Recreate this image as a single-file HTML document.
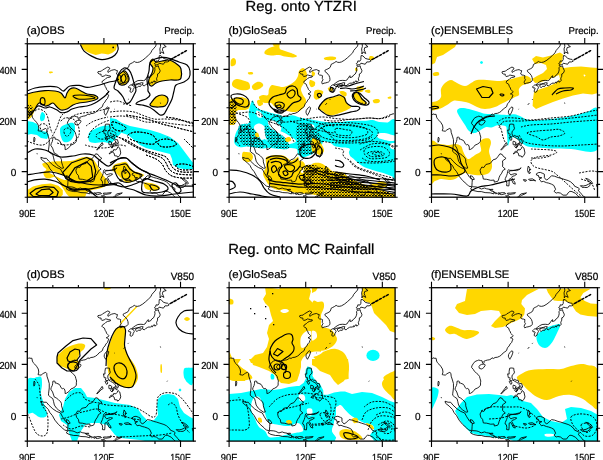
<!DOCTYPE html><html><head><meta charset="utf-8"><style>html,body{margin:0;padding:0;background:#fff;overflow:hidden}text{-webkit-font-smoothing:antialiased}svg{display:block;will-change:transform}</style></head><body>
<svg width="603" height="460" viewBox="0 0 603 460" font-family="Liberation Sans, sans-serif">
<style>text{stroke:#000;stroke-width:0.22px;fill:#000;text-rendering:geometricPrecision}</style>
<defs>
<clipPath id="c00"><rect x="27.3" y="43.8" width="166.0" height="153.4"/></clipPath>
<clipPath id="c01"><rect x="229.1" y="43.8" width="166.0" height="153.4"/></clipPath>
<clipPath id="c02"><rect x="431.5" y="43.8" width="166.0" height="153.4"/></clipPath>
<clipPath id="c10"><rect x="27.3" y="287.7" width="166.0" height="153.4"/></clipPath>
<clipPath id="c11"><rect x="229.1" y="287.7" width="166.0" height="153.4"/></clipPath>
<clipPath id="c12"><rect x="431.5" y="287.7" width="166.0" height="153.4"/></clipPath>
<g id="coast"><path d="M-5.11,72.10 L-2.55,72.35 L0.00,71.59 L1.53,70.05 L2.55,70.56 L4.60,70.56 L5.11,73.38 L5.87,74.91 L7.41,76.44 L9.19,78.49 L10.98,81.30 L11.49,84.37 L10.73,86.93 L12.00,87.18 L13.79,87.44 L15.32,86.16 L16.60,85.39 L18.39,84.63 L19.41,85.65 L19.66,88.46 L20.94,92.30 L21.96,95.88 L21.96,100.22 L21.71,102.27 L21.20,106.10 L21.20,107.64 L22.98,109.17 L25.54,110.96 L26.30,114.03 L27.07,117.35 L29.11,120.42 L31.16,122.21 L34.48,124.51 L36.26,124.25 L35.24,121.44 L34.22,118.12 L34.22,116.07 L33.46,114.28 L31.16,111.98 L28.86,110.19 L27.07,109.43 L26.30,107.38 L25.28,104.31 L23.50,101.50 L24.01,99.71 L25.03,97.66 L25.41,95.62 L25.54,93.57 L26.82,93.32 L27.84,93.83 L27.84,95.36 L28.86,95.36 L31.92,96.64 L32.94,98.18 L33.71,99.97 L34.99,100.99 L36.26,100.73 L37.03,101.24 L37.80,103.29 L37.80,105.85 L39.07,105.59 L41.37,104.06 L42.65,102.52 L43.67,101.24 L45.71,100.48 L48.01,98.94 L49.03,97.41 L49.03,95.11 L49.29,93.32 L48.52,90.76 L48.01,88.72 L46.48,86.67 L44.95,85.39 L42.90,83.60 L41.88,81.81 L40.10,79.77 L40.35,78.23 L41.63,76.19 L42.65,74.65 L44.44,73.38 L45.97,72.86 L47.25,72.35 L49.03,72.86 L50.57,73.12 L51.08,75.42 L51.84,75.93 L52.61,74.65 L52.35,73.63 L54.14,72.86 L55.93,72.35 L57.72,72.10 L59.50,71.33 L60.53,70.05 L61.80,70.82 L63.59,69.80 L65.89,69.54 L68.19,68.52 L69.98,67.24 L71.76,65.19 L73.30,64.17 L75.08,62.89 L75.59,61.10 L76.36,59.57 L77.64,58.29 L78.66,56.25 L80.19,54.71 L80.70,53.18 L81.47,51.39 L79.94,50.37 L78.91,50.11 L81.21,48.83 L81.47,47.81 L80.19,46.53 L79.17,45.51 L78.91,44.23 L77.89,42.70 L77.13,40.40 L75.34,39.37 L74.57,38.61 L75.34,37.07 L77.13,36.05 L78.40,34.77 L80.19,33.75 L83.00,33.24 L83.26,32.21 L81.47,31.96 L79.42,31.45 L78.40,31.19 L76.87,32.21 L74.57,32.73 L73.81,31.70 L73.81,30.42 L71.76,30.17 L70.49,29.15 L70.74,27.87 L72.53,27.61 L74.06,27.36 L75.34,26.08 L76.87,25.31 L78.91,24.03 L80.45,23.27 L82.23,24.03 L82.49,25.06 L80.70,26.59 L80.45,28.12 L80.70,28.63 L82.23,27.61 L84.02,26.59 L85.81,26.08 L87.60,25.82 L88.87,26.59 L90.15,26.84 L89.64,28.89 L89.13,30.17 L90.41,31.19 L92.19,31.45 L93.47,31.96 L93.22,33.24 L93.22,34.77 L93.98,36.05 L92.96,37.33 L92.70,38.86 L93.22,40.14 L95.00,39.37 L96.54,39.12 L98.32,38.61 L99.60,38.09 L100.62,37.07 L100.88,35.54 L100.62,33.75 L99.86,31.70 L98.58,30.17 L97.81,29.15 L96.02,27.87 L95.77,26.59 L97.05,25.82 L98.83,25.06 L100.88,23.78 L101.64,22.24 L101.90,20.71 L103.69,19.69 L105.22,18.92 L107.01,17.64 L108.28,18.41 L110.07,18.66 L112.37,18.15 L115.43,16.36 L118.24,14.06 L121.05,11.50 L123.61,8.95 L124.63,6.65 L126.67,4.35 L128.46,2.30 L129.22,-1.28 L130.25,-5.11 M51.84,76.44 L53.38,76.70 L53.63,77.72 L52.35,79.77 L51.08,80.79 L49.80,81.30 L47.76,80.53 L47.50,78.75 L48.78,77.21 L50.06,76.70Z M80.45,63.15 L81.47,63.92 L81.21,65.45 L80.19,68.26 L78.91,70.56 L78.40,71.59 L77.38,70.05 L76.87,68.52 L77.13,66.73 L78.15,65.19 L79.42,63.66Z M104.45,41.16 L105.98,41.93 L106.50,42.70 L107.01,43.97 L105.98,45.51 L105.47,47.55 L103.94,48.58 L102.66,47.81 L102.92,46.28 L103.69,44.49 L102.66,43.97 L101.64,44.23 L101.13,42.95 L102.15,41.93 L103.18,41.16Z M108.54,42.70 L109.56,43.97 L111.09,42.44 L113.14,42.70 L114.16,41.16 L113.39,40.40 L111.35,40.14 L109.82,40.65 L108.28,41.16Z M104.45,40.91 L105.98,39.63 L108.03,38.09 L110.58,36.82 L113.65,36.56 L116.20,36.82 L117.73,36.30 L119.26,34.00 L120.03,32.73 L121.05,31.96 L120.80,33.75 L123.10,33.24 L124.63,31.19 L126.16,30.17 L127.18,28.12 L127.69,26.08 L127.44,24.03 L128.46,22.50 L129.99,22.50 L131.01,21.99 L131.52,24.03 L132.80,26.59 L132.54,28.12 L131.52,29.66 L130.25,30.17 L130.25,32.47 L129.74,33.49 L129.22,35.03 L129.74,36.56 L128.71,37.84 L127.44,38.35 L127.18,37.07 L125.90,37.58 L125.39,38.86 L124.63,39.37 L124.63,38.09 L123.10,39.37 L120.54,39.37 L119.78,40.14 L118.24,40.91 L116.97,42.19 L115.43,41.42 L115.18,40.14 L115.94,39.12 L114.16,38.86 L112.11,39.63 L109.82,40.14 L108.03,40.40 L106.75,40.91 L105.22,41.16Z M127.69,21.73 L129.22,20.96 L130.76,20.96 L131.78,19.43 L134.08,19.94 L136.12,20.45 L137.65,18.15 L139.95,18.15 L141.74,17.39 L141.23,16.36 L140.46,15.60 L138.67,15.34 L136.12,14.57 L133.82,12.02 L132.03,11.76 L131.78,13.81 L131.78,15.60 L130.76,17.39 L128.71,17.13 L128.46,18.92 L127.18,19.69 L127.95,20.71Z M132.80,10.23 L134.08,8.18 L136.63,9.72 L135.86,7.67 L135.10,6.14 L135.61,3.83 L138.93,2.81 L136.89,1.53 L135.86,-1.28 L135.35,-3.83 L133.31,-3.83 L133.06,0.00 L133.31,2.56 L132.54,5.11 L132.80,7.67Z M78.15,80.53 L79.68,80.28 L82.23,80.53 L82.49,83.09 L83.00,84.37 L82.23,86.16 L80.70,87.44 L80.45,89.48 L80.96,91.53 L82.23,92.30 L83.26,91.53 L84.53,92.55 L86.58,92.55 L87.34,94.60 L86.83,95.62 L85.04,94.60 L83.26,93.57 L81.21,92.30 L79.68,93.06 L78.40,92.30 L78.15,91.02 L78.91,90.51 L78.15,89.99 L76.87,89.99 L76.36,87.44 L76.10,86.16 L77.64,86.42 L77.64,83.60Z M78.15,93.32 L79.68,93.57 L80.45,95.11 L79.94,96.39 L79.17,96.64 L78.66,95.62 L77.64,93.57Z M74.83,98.69 L75.85,100.73 L73.55,102.27 L71.76,104.31 L69.72,106.36 L69.46,105.85 L71.25,103.55 L73.04,101.24 L74.83,98.69Z M81.72,97.41 L84.02,98.18 L84.53,99.20 L83.26,100.99 L81.72,100.99 L81.47,98.94Z M84.53,99.97 L85.55,101.76 L84.79,104.31 L83.26,103.03 L84.02,100.99Z M86.83,99.20 L86.83,101.24 L85.30,103.55 L85.81,100.99Z M87.85,95.88 L90.15,95.88 L91.17,99.45 L89.38,99.71 L89.90,101.76 L88.87,102.01 L87.85,100.22 L87.85,98.43 L89.13,98.69 L87.60,96.90Z M90.66,102.78 L92.45,104.31 L93.47,109.17 L92.45,111.73 L90.41,113.52 L89.90,112.24 L87.34,111.98 L86.83,109.43 L85.30,108.40 L83.77,108.91 L81.98,110.19 L82.23,109.17 L83.77,107.64 L86.06,107.38 L86.32,105.85 L88.62,106.10 L89.64,105.08Z M68.44,109.94 L70.74,110.70 L71.76,112.49 L74.57,114.54 L72.53,116.07 L71.00,117.10 L71.25,120.16 L71.00,122.72 L73.81,125.28 L71.25,126.81 L70.23,129.37 L68.70,131.41 L67.68,133.46 L66.91,136.27 L66.14,137.55 L62.82,138.32 L62.57,136.27 L59.25,136.53 L55.16,135.50 L51.84,135.25 L51.08,131.67 L49.29,129.62 L48.52,126.30 L50.31,123.23 L52.35,123.74 L54.40,120.67 L58.74,119.65 L61.55,116.07 L64.61,115.05 L66.66,112.49Z M13.54,113.52 L16.60,114.54 L19.15,114.54 L21.45,117.35 L25.54,121.19 L29.37,123.74 L33.20,125.28 L35.24,129.11 L38.05,133.46 L40.86,135.50 L40.61,138.57 L40.35,142.92 L37.29,142.41 L35.24,140.36 L31.16,136.78 L27.58,132.44 L25.03,127.83 L22.47,124.77 L20.94,121.70 L17.62,118.37 L14.05,115.56Z M38.82,131.92 L40.86,132.44 L42.90,135.50 L40.86,136.01 L39.33,134.48Z M40.86,142.92 L44.69,143.17 L46.74,143.68 L49.80,145.22 L53.12,144.20 L54.91,144.96 L57.97,145.47 L60.02,147.26 L62.57,147.78 L62.31,150.08 L58.74,149.05 L53.63,148.80 L49.80,147.78 L46.48,147.78 L41.88,146.75 L39.07,145.22 L40.35,143.17Z M57.97,145.73 L61.29,145.47 L61.29,146.24 L58.23,146.24Z M62.57,148.54 L65.38,149.31 L64.36,150.33Z M66.40,149.05 L68.19,149.05 L67.68,150.59 L66.40,150.33Z M68.44,149.31 L70.74,148.80 L73.55,149.05 L74.32,149.82 L70.23,150.84 L68.70,150.59Z M76.10,149.31 L79.17,149.31 L84.02,148.80 L83.26,149.82 L78.40,150.59 L76.10,150.33Z M74.06,152.12 L77.13,151.87 L78.66,153.91 L75.34,153.14Z M85.55,153.91 L87.60,151.87 L89.64,150.08 L95.00,149.05 L93.47,150.08 L89.90,151.61 L87.09,153.66Z M89.64,124.00 L88.36,125.53 L85.04,126.81 L80.45,126.55 L78.15,126.55 L77.13,125.79 L76.62,126.30 L76.10,127.83 L75.85,129.62 L75.08,131.92 L73.81,134.74 L73.55,136.27 L74.83,137.04 L75.34,139.59 L75.08,141.90 L77.38,142.15 L77.64,139.08 L77.64,135.50 L79.17,134.74 L80.70,137.29 L81.72,139.59 L83.77,140.36 L83.26,138.32 L81.72,136.53 L80.19,133.71 L80.70,132.69 L83.00,131.92 L85.30,130.39 L83.26,129.88 L81.21,130.39 L79.42,131.16 L78.40,130.13 L77.13,128.09 L78.66,127.07 L81.21,126.81 L84.28,126.04 L87.85,125.28 L89.13,124.25Z M96.79,122.21 L98.32,124.51 L97.81,126.30 L99.34,125.53 L97.05,127.83 L99.09,128.86 L97.56,129.88 L96.54,128.34 L96.02,125.79Z M97.05,135.50 L100.88,134.99 L104.20,137.04 L101.64,136.53 L98.32,136.78Z M91.94,135.76 L95.00,136.27 L94.24,137.55 L92.45,137.04Z M104.71,130.13 L106.75,128.86 L108.79,128.60 L111.35,129.62 L112.88,130.39 L112.88,133.97 L114.92,136.27 L116.71,135.25 L120.03,131.92 L123.10,132.44 L126.42,133.71 L129.48,134.48 L132.54,135.50 L136.63,136.78 L139.18,138.06 L142.50,141.13 L143.02,142.41 L146.59,143.94 L147.87,144.96 L146.85,147.01 L148.63,148.54 L150.42,150.84 L151.70,152.38 L154.51,153.91 L153.23,154.93 L148.12,153.66 L146.08,151.87 L144.04,149.56 L140.46,147.78 L138.42,147.52 L136.63,149.05 L135.10,151.35 L131.52,151.35 L128.97,149.31 L126.42,148.80 L124.63,149.31 L122.58,147.52 L124.12,145.47 L122.33,141.64 L120.03,140.36 L117.22,139.34 L114.92,138.83 L111.86,137.55 L109.82,138.06 L108.79,136.53 L107.52,135.25 L110.33,133.97 L107.26,133.46 L107.01,131.67 L105.22,131.41Z M148.89,141.90 L151.95,142.15 L154.51,141.64 L157.06,140.36 L158.85,138.83 L158.34,141.90 L155.78,143.68 L153.23,143.68 L150.42,143.43Z M154.25,134.48 L157.06,135.50 L159.62,137.29 L161.15,139.59 L160.38,140.11 L157.83,137.80 L154.76,135.25Z M164.98,140.62 L167.28,142.92 L168.30,145.22 L166.51,144.71 L165.23,142.15Z M6.90,93.32 L7.66,94.60 L7.41,97.15 L6.64,98.43 L6.38,95.88Z M9.70,109.43 L9.96,110.45 M96.28,61.10 L97.81,59.31 M100.62,55.99 L101.39,55.22 M87.09,65.45 L87.60,65.19 M133.06,58.80 L133.31,59.83 M139.70,93.83 L140.21,93.06" fill="none" stroke="#000" stroke-width="0.85" stroke-linejoin="round"/><path d="M142.76,15.85 L145.31,14.57 M146.59,13.81 L148.89,12.53 M150.42,11.76 L152.21,10.74 M154.00,9.72 L155.78,8.69 M157.32,7.93 L159.10,6.90" fill="none" stroke="#000" stroke-width="1.5" stroke-linecap="round"/></g>
<pattern id="stip" width="3" height="3" patternUnits="userSpaceOnUse"><rect width="3" height="3" fill="#00FFFF"/><rect x="0" y="0" width="1.6" height="1" fill="#000"/><rect x="1.5" y="1.6" width="1" height="1.2" fill="#000"/></pattern>
<pattern id="stipY" width="3" height="3" patternUnits="userSpaceOnUse"><rect width="3" height="3" fill="#FFD700"/><rect x="0" y="0" width="1.8" height="1.1" fill="#000"/><rect x="1.6" y="1.7" width="1.2" height="1.1" fill="#000"/></pattern>
</defs>
<rect width="603" height="460" fill="#fff"/>
<text x="245.6" y="10.7" font-size="14.6" textLength="111.2" lengthAdjust="spacingAndGlyphs">Reg. onto YTZRI</text>
<text x="228.2" y="254.4" font-size="14.6" textLength="146.2" lengthAdjust="spacingAndGlyphs">Reg. onto MC Rainfall</text>
<g clip-path="url(#c00)">
<path d="M80,43.5 L118,43.5 L116.8,46 L116,50 L112,53 L108.2,54.4 L104,53.8 L101.5,53.6 L98,54.5 L95.7,54.9 L91,53.5 L87.4,52 L84.5,50 L82.5,47.8Z" fill="#FFD700"/>
<path d="M49.0,71.8 C49.3,71.5 51.3,71.5 52.0,71.6 C52.7,71.7 53.3,72.3 53.0,72.6 C52.7,72.9 50.7,73.5 50.0,73.4 C49.3,73.3 48.7,72.1 49.0,71.8Z" fill="#FFD700"/>
<path d="M27,94 L35,92 L45,90.6 L55,91 L61,93 L65,98 L67,93 L70,89 L75,88 L81,91 L87,94 L95,95.4 L98,98 L95,100 L87,102 L79,103 L73,105 L67,109 L61,110 L57,107 L53,103 L49,105 L45,106 L39,103 L35,109 L31,113 L27,111Z" fill="#FFD700"/>
<path d="M27.0,104.0 C27.5,101.3 29.0,102.0 30.0,102.0 C31.0,102.0 32.2,103.0 33.0,104.0 C33.8,105.0 34.8,106.7 35.0,108.0 C35.2,109.3 34.4,110.8 34.0,112.0 C33.6,113.2 33.1,114.2 32.6,115.1 C32.1,116.0 32.0,116.9 31.1,117.4 C30.2,118.0 27.7,120.6 27.0,118.4 C26.3,116.2 26.5,106.7 27.0,104.0Z" fill="#FFD700"/>
<path d="M27.0,106.0 C27.5,103.9 29.1,104.8 30.0,105.0 C30.9,105.2 31.9,106.1 32.5,107.0 C33.1,107.9 33.5,109.3 33.5,110.5 C33.5,111.7 32.9,113.0 32.5,114.0 C32.1,115.0 31.9,115.9 31.0,116.5 C30.1,117.1 27.7,119.2 27.0,117.5 C26.3,115.8 26.5,108.1 27.0,106.0Z" fill="url(#stipY)"/>
<path d="M118.0,76.0 C118.7,74.3 120.8,72.8 122.0,72.0 C123.2,71.2 124.0,70.5 125.0,71.0 C126.0,71.5 127.3,73.5 128.0,75.0 C128.7,76.5 129.3,78.5 129.0,80.0 C128.7,81.5 127.3,83.2 126.0,84.0 C124.7,84.8 122.3,85.3 121.0,85.0 C119.7,84.7 118.5,83.5 118.0,82.0 C117.5,80.5 117.3,77.7 118.0,76.0Z" fill="#FFD700"/>
<path d="M150,60 L153,59 L156,62 L162,61 L168,60 L172,61 L178,65 L181,69 L181,78 L178,80 L170,80 L162,81 L156,83 L152,86 L149,84 L149,79 L152,73 L153,68 L151,63Z" fill="#FFD700"/>
<path d="M151.0,103.0 C152.0,101.7 154.2,98.3 156.0,97.0 C157.8,95.7 160.2,95.0 162.0,95.0 C163.8,95.0 166.0,96.0 167.0,97.0 C168.0,98.0 168.3,99.5 168.0,101.0 C167.7,102.5 166.5,105.0 165.0,106.0 C163.5,107.0 161.0,106.9 159.0,107.0 C157.0,107.1 154.5,106.9 153.0,106.6 C151.5,106.3 150.3,105.6 150.0,105.0 C149.7,104.4 150.0,104.3 151.0,103.0Z" fill="#FFD700"/>
<path d="M42.0,112.0 C42.8,111.7 44.7,113.7 45.0,115.0 C45.3,116.3 44.7,119.0 44.0,120.0 C43.3,121.0 41.7,121.5 41.0,121.0 C40.3,120.5 39.8,118.5 40.0,117.0 C40.2,115.5 41.2,112.3 42.0,112.0Z" fill="#00FFFF"/>
<path d="M27,121 L33,122 L37,124 L39,129 L42,131 L47,132 L49,135 L47,139 L41,138 L37,135 L31,134 L27,135Z" fill="#00FFFF"/>
<path d="M61.0,127.0 C62.2,125.8 65.0,124.7 67.0,124.0 C69.0,123.3 71.7,122.5 73.0,123.0 C74.3,123.5 74.8,125.0 75.0,127.0 C75.2,129.0 74.8,132.7 74.0,135.0 C73.2,137.3 71.7,139.8 70.0,141.0 C68.3,142.2 65.5,142.7 64.0,142.0 C62.5,141.3 61.7,138.8 61.0,137.0 C60.3,135.2 60.0,132.7 60.0,131.0 C60.0,129.3 59.8,128.2 61.0,127.0Z" fill="#00FFFF"/>
<path d="M89.0,133.0 C90.0,131.0 92.7,130.2 95.0,129.0 C97.3,127.8 100.3,126.7 103.0,126.0 C105.7,125.3 108.8,125.5 111.0,125.0 C113.2,124.5 114.7,123.5 116.0,123.0 C117.3,122.5 118.2,121.2 119.0,122.0 C119.8,122.8 120.7,126.2 121.0,128.0 C121.3,129.8 121.8,131.3 121.0,133.0 C120.2,134.7 117.7,136.3 116.0,138.0 C114.3,139.7 113.2,142.3 111.0,143.0 C108.8,143.7 105.7,142.0 103.0,142.0 C100.3,142.0 97.3,143.2 95.0,143.0 C92.7,142.8 90.0,142.7 89.0,141.0 C88.0,139.3 88.0,135.0 89.0,133.0Z" fill="#00FFFF"/>
<path d="M110,118 L116,119 L122,123 L130,126 L140,128 L150,130 L160,133 L170,137 L178,143 L184,151 L190,159 L194,164 L194,169 L186,169.4 L178,168 L173,165 L172,159 L170,154 L162,152 L154,150 L146,148 L140,145 L134,140 L128,135 L122,133 L116,131 L110,129Z" fill="#00FFFF"/>
<path d="M42.7,163.4 C43.7,162.7 47.0,162.3 49.4,161.9 C51.8,161.5 54.2,161.3 56.9,161.2 C59.6,161.1 63.1,161.3 65.8,161.2 C68.5,161.1 71.1,160.9 73.3,160.4 C75.5,159.9 77.0,158.8 79.2,158.2 C81.4,157.6 84.5,156.6 86.7,156.7 C89.0,156.8 91.0,157.6 92.7,159.0 C94.4,160.4 95.9,162.9 97.1,164.9 C98.3,166.9 98.8,168.9 100.1,170.9 C101.3,172.9 103.2,175.0 104.6,176.9 C106.0,178.8 108.0,180.6 108.3,182.1 C108.5,183.6 107.7,184.7 106.1,185.8 C104.5,186.9 101.1,188.1 98.6,188.8 C96.1,189.6 93.2,189.6 91.2,190.3 C89.2,191.1 88.0,192.1 86.7,193.3 C85.5,194.6 86.2,197.1 83.7,197.8 C81.2,198.6 74.5,198.3 71.8,197.8 C69.1,197.3 68.5,196.1 67.3,194.8 C66.0,193.6 65.3,191.8 64.3,190.3 C63.3,188.8 62.3,187.3 61.3,185.8 C60.3,184.3 59.3,182.8 58.3,181.3 C57.3,179.8 56.9,177.4 55.4,176.9 C53.9,176.4 51.1,178.4 49.4,178.4 C47.6,178.4 45.9,177.9 44.9,176.9 C43.9,175.9 43.1,173.7 43.4,172.4 C43.6,171.2 46.4,170.4 46.4,169.4 C46.4,168.4 44.0,167.4 43.4,166.4 C42.8,165.4 41.7,164.2 42.7,163.4Z" fill="#FFD700"/>
<path d="M50.9,170.9 C52.1,170.9 54.9,171.7 56.9,172.4 C58.9,173.2 61.1,174.4 62.8,175.4 C64.5,176.4 67.0,177.7 67.3,178.4 C67.5,179.2 65.8,180.0 64.3,179.9 C62.8,179.8 60.3,178.5 58.3,177.6 C56.3,176.7 53.9,175.5 52.4,174.6 C50.9,173.7 49.6,173.0 49.4,172.4 C49.1,171.8 49.6,170.9 50.9,170.9Z" fill="#fff"/>
<path d="M27,190.3 L33,186.6 L41.9,184.3 L50.9,183.6 L58.3,185.8 L62.8,190.3 L62.8,194.8 L59.8,198 L27,198Z" fill="#FFD700"/>
<path d="M114.0,165.0 C115.3,163.8 118.0,163.5 120.0,163.0 C122.0,162.5 124.3,161.3 126.0,162.0 C127.7,162.7 128.7,165.5 130.0,167.0 C131.3,168.5 132.3,170.0 134.0,171.0 C135.7,172.0 138.3,172.3 140.0,173.0 C141.7,173.7 144.0,174.2 144.0,175.0 C144.0,175.8 141.7,177.0 140.0,178.0 C138.3,179.0 136.0,180.2 134.0,181.0 C132.0,181.8 129.7,183.0 128.0,183.0 C126.3,183.0 125.3,182.0 124.0,181.0 C122.7,180.0 121.3,178.3 120.0,177.0 C118.7,175.7 117.3,174.2 116.0,173.0 C114.7,171.8 112.3,171.3 112.0,170.0 C111.7,168.7 112.7,166.2 114.0,165.0Z" fill="#FFD700"/>
<path d="M144.0,183.0 C144.8,182.2 147.8,182.7 150.0,183.0 C152.2,183.3 155.3,184.2 157.0,185.0 C158.7,185.8 160.2,187.1 160.0,188.0 C159.8,188.9 157.8,190.3 156.0,190.6 C154.2,190.9 150.8,190.4 149.0,190.0 C147.2,189.6 145.8,189.2 145.0,188.0 C144.2,186.8 143.2,183.8 144.0,183.0Z" fill="#FFD700"/>
<use href="#coast" transform="translate(27.3,43.8)"/>
<path d="M27.0,91.0 C28.3,90.5 32.0,88.7 35.0,88.0 C38.0,87.3 41.3,86.8 45.0,86.6 C48.7,86.4 54.0,86.3 57.0,87.0 C60.0,87.7 61.5,90.7 63.0,91.0 C64.5,91.3 64.8,89.8 66.0,89.0 C67.2,88.2 67.8,86.6 70.0,86.0 C72.2,85.4 76.2,85.2 79.0,85.4 C81.8,85.6 84.3,87.3 87.0,87.4 C89.7,87.5 92.3,86.6 95.0,86.0 C97.7,85.4 100.7,84.7 103.0,84.0 C105.3,83.3 107.0,82.5 109.0,82.0 C111.0,81.5 113.3,81.5 115.0,81.0 C116.7,80.5 118.3,79.3 119.0,79.0" fill="none" stroke="#000" stroke-width="1.2" stroke-linejoin="round"/>
<path d="M109.0,91.0 C108.5,91.7 107.3,93.7 106.0,95.0 C104.7,96.3 102.8,97.7 101.0,99.0 C99.2,100.3 97.3,101.8 95.0,103.0 C92.7,104.2 89.7,105.3 87.0,106.0 C84.3,106.7 81.5,106.5 79.0,107.0 C76.5,107.5 74.0,108.2 72.0,109.0 C70.0,109.8 68.8,111.4 67.0,112.0 C65.2,112.6 62.7,112.9 61.0,112.6 C59.3,112.3 58.8,110.9 57.0,110.0 C55.2,109.1 52.0,107.3 50.0,107.0 C48.0,106.7 47.0,108.2 45.0,108.0 C43.0,107.8 40.0,105.3 38.0,106.0 C36.0,106.7 34.5,110.3 33.0,112.0 C31.5,113.7 29.7,115.3 29.0,116.0" fill="none" stroke="#000" stroke-width="1.2" stroke-linejoin="round"/>
<path d="M27.0,94.0 C28.3,93.7 32.0,92.6 35.0,92.0 C38.0,91.4 41.7,90.8 45.0,90.6 C48.3,90.4 52.3,90.6 55.0,91.0 C57.7,91.4 59.3,91.8 61.0,93.0 C62.7,94.2 64.0,98.0 65.0,98.0 C66.0,98.0 66.2,94.5 67.0,93.0 C67.8,91.5 68.7,89.8 70.0,89.0 C71.3,88.2 73.2,87.7 75.0,88.0 C76.8,88.3 79.0,90.0 81.0,91.0 C83.0,92.0 84.7,93.3 87.0,94.0 C89.3,94.7 93.2,94.7 95.0,95.4 C96.8,96.1 98.0,97.2 98.0,98.0 C98.0,98.8 96.8,99.3 95.0,100.0 C93.2,100.7 89.7,101.5 87.0,102.0 C84.3,102.5 81.3,102.5 79.0,103.0 C76.7,103.5 75.0,104.0 73.0,105.0 C71.0,106.0 69.0,108.2 67.0,109.0 C65.0,109.8 62.7,110.3 61.0,110.0 C59.3,109.7 58.3,108.2 57.0,107.0 C55.7,105.8 54.3,103.3 53.0,103.0 C51.7,102.7 50.3,104.5 49.0,105.0 C47.7,105.5 46.7,106.3 45.0,106.0 C43.3,105.7 40.7,102.5 39.0,103.0 C37.3,103.5 36.3,107.3 35.0,109.0 C33.7,110.7 32.3,112.7 31.0,113.0 C29.7,113.3 27.7,111.3 27.0,111.0" fill="none" stroke="#000" stroke-width="1.2" stroke-linejoin="round"/>
<path d="M73.0,96.0 C73.3,95.3 77.2,95.0 80.0,95.0 C82.8,95.0 87.5,95.5 90.0,96.0 C92.5,96.5 95.3,97.5 95.0,98.0 C94.7,98.5 90.8,98.8 88.0,99.0 C85.2,99.2 80.5,99.5 78.0,99.0 C75.5,98.5 72.7,96.7 73.0,96.0Z" fill="none" stroke="#000" stroke-width="1.2" stroke-linejoin="round"/>
<path d="M40.5,103.5 C40.2,102.5 40.2,100.0 40.5,99.0 C40.8,98.0 41.8,97.6 42.5,97.6 C43.2,97.6 44.2,97.9 44.6,99.0 C45.0,100.1 45.1,103.0 44.8,104.0 C44.4,105.0 43.2,104.9 42.5,104.8 C41.8,104.7 40.8,104.5 40.5,103.5Z" fill="none" stroke="#000" stroke-width="1.2" stroke-linejoin="round"/>
<path d="M80.4,44.5 C81.0,45.6 82.2,49.2 84.1,51.1 C86.0,53.0 89.0,54.7 91.6,56.1 C94.2,57.5 97.1,59.0 99.9,59.4 C102.7,59.8 105.7,59.3 108.2,58.6 C110.7,57.9 113.2,56.8 114.8,55.3 C116.4,53.8 117.7,51.4 118.1,49.5 C118.5,47.6 117.4,44.9 117.3,44.0" fill="none" stroke="#000" stroke-width="1.2" stroke-linejoin="round"/>
<circle cx="113.2" cy="47.4" r="0.9" fill="#000"/>
<path d="M148.0,87.0 C147.8,85.0 146.8,81.7 147.0,79.0 C147.2,76.3 148.5,73.7 149.0,71.0 C149.5,68.3 149.0,65.0 150.0,63.0 C151.0,61.0 152.8,59.9 155.0,59.0 C157.2,58.1 160.5,57.5 163.0,57.4 C165.5,57.3 167.3,57.8 170.0,58.6 C172.7,59.4 176.2,60.9 179.0,62.0 C181.8,63.1 185.2,63.5 187.0,65.0 C188.8,66.5 189.7,68.8 190.0,71.0 C190.3,73.2 190.0,76.2 189.0,78.0 C188.0,79.8 186.2,80.8 184.0,82.0 C181.8,83.2 177.7,83.5 176.0,85.0 C174.3,86.5 174.7,88.7 174.0,91.0 C173.3,93.3 173.0,96.3 172.0,99.0 C171.0,101.7 169.3,104.5 168.0,107.0 C166.7,109.5 165.3,112.7 164.0,114.0 C162.7,115.3 161.5,115.5 160.0,115.0 C158.5,114.5 156.8,112.3 155.0,111.0 C153.2,109.7 151.2,108.0 149.0,107.0 C146.8,106.0 144.2,105.5 142.0,105.0 C139.8,104.5 136.3,104.7 136.0,104.0 C135.7,103.3 138.3,101.8 140.0,101.0 C141.7,100.2 144.3,100.0 146.0,99.0 C147.7,98.0 149.7,96.3 150.0,95.0 C150.3,93.7 148.3,92.3 148.0,91.0 C147.7,89.7 148.2,89.0 148.0,87.0Z" fill="none" stroke="#000" stroke-width="1.2" stroke-linejoin="round"/>
<path d="M150.0,63.0 C150.0,61.5 152.0,59.2 153.0,59.0 C154.0,58.8 154.5,61.7 156.0,62.0 C157.5,62.3 160.0,61.3 162.0,61.0 C164.0,60.7 166.3,60.0 168.0,60.0 C169.7,60.0 170.3,60.2 172.0,61.0 C173.7,61.8 176.5,63.7 178.0,65.0 C179.5,66.3 180.5,66.8 181.0,69.0 C181.5,71.2 181.5,76.2 181.0,78.0 C180.5,79.8 179.8,79.7 178.0,80.0 C176.2,80.3 172.7,79.8 170.0,80.0 C167.3,80.2 164.3,80.5 162.0,81.0 C159.7,81.5 157.7,82.2 156.0,83.0 C154.3,83.8 153.2,85.8 152.0,86.0 C150.8,86.2 149.5,85.2 149.0,84.0 C148.5,82.8 148.5,80.8 149.0,79.0 C149.5,77.2 151.3,74.8 152.0,73.0 C152.7,71.2 153.3,69.7 153.0,68.0 C152.7,66.3 150.0,64.5 150.0,63.0Z" fill="none" stroke="#000" stroke-width="1.2" stroke-linejoin="round"/>
<path d="M151.0,103.0 C152.0,101.7 154.2,98.3 156.0,97.0 C157.8,95.7 160.2,95.0 162.0,95.0 C163.8,95.0 166.0,96.0 167.0,97.0 C168.0,98.0 168.3,99.5 168.0,101.0 C167.7,102.5 166.5,105.0 165.0,106.0 C163.5,107.0 161.0,106.9 159.0,107.0 C157.0,107.1 154.5,106.9 153.0,106.6 C151.5,106.3 150.3,105.6 150.0,105.0 C149.7,104.4 150.0,104.3 151.0,103.0Z" fill="none" stroke="#000" stroke-width="1.2" stroke-linejoin="round"/>
<path d="M116.0,81.0 C116.8,78.5 117.7,75.2 119.0,73.0 C120.3,70.8 122.3,68.5 124.0,68.0 C125.7,67.5 127.7,68.7 129.0,70.0 C130.3,71.3 131.2,73.8 132.0,76.0 C132.8,78.2 133.3,80.7 134.0,83.0 C134.7,85.3 136.0,88.0 136.0,90.0 C136.0,92.0 135.0,93.0 134.0,95.0 C133.0,97.0 131.3,100.7 130.0,102.0 C128.7,103.3 127.2,103.8 126.0,103.0 C124.8,102.2 124.3,99.0 123.0,97.0 C121.7,95.0 119.5,92.5 118.0,91.0 C116.5,89.5 114.3,89.7 114.0,88.0 C113.7,86.3 115.2,83.5 116.0,81.0Z" fill="none" stroke="#000" stroke-width="1.2" stroke-linejoin="round"/>
<path d="M118.0,76.0 C118.7,74.3 120.8,72.8 122.0,72.0 C123.2,71.2 124.0,70.5 125.0,71.0 C126.0,71.5 127.3,73.5 128.0,75.0 C128.7,76.5 129.3,78.5 129.0,80.0 C128.7,81.5 127.3,83.2 126.0,84.0 C124.7,84.8 122.3,85.3 121.0,85.0 C119.7,84.7 118.5,83.5 118.0,82.0 C117.5,80.5 117.3,77.7 118.0,76.0Z" fill="none" stroke="#000" stroke-width="1.2" stroke-linejoin="round"/>
<path d="M121.0,78.0 C121.2,76.5 123.2,73.8 124.0,74.0 C124.8,74.2 126.2,77.5 126.0,79.0 C125.8,80.5 123.8,83.2 123.0,83.0 C122.2,82.8 120.8,79.5 121.0,78.0Z" fill="none" stroke="#000" stroke-width="1.2" stroke-linejoin="round"/>
<path d="M27.0,153.0 C28.3,152.3 32.0,149.5 35.0,149.0 C38.0,148.5 42.0,149.2 45.0,150.0 C48.0,150.8 50.3,152.8 53.0,154.0 C55.7,155.2 57.7,156.7 61.0,157.0 C64.3,157.3 69.3,156.5 73.0,156.0 C76.7,155.5 79.7,154.2 83.0,154.0 C86.3,153.8 90.7,154.3 93.0,155.0 C95.3,155.7 95.3,156.7 97.0,158.0 C98.7,159.3 101.0,161.7 103.0,163.0 C105.0,164.3 106.5,166.7 109.0,166.0 C111.5,165.3 115.2,160.3 118.0,159.0 C120.8,157.7 123.7,157.3 126.0,158.0 C128.3,158.7 129.7,161.2 132.0,163.0 C134.3,164.8 137.3,167.3 140.0,169.0 C142.7,170.7 145.3,171.8 148.0,173.0 C150.7,174.2 153.0,174.8 156.0,176.0 C159.0,177.2 163.0,178.7 166.0,180.0 C169.0,181.3 171.7,183.0 174.0,184.0 C176.3,185.0 176.7,185.7 180.0,186.0 C183.3,186.3 191.7,186.0 194.0,186.0" fill="none" stroke="#000" stroke-width="1.2" stroke-linejoin="round"/>
<path d="M27.0,175.0 C29.0,174.7 35.0,173.5 39.0,173.0 C43.0,172.5 47.0,171.7 51.0,172.0 C55.0,172.3 59.0,173.5 63.0,175.0 C67.0,176.5 71.0,179.5 75.0,181.0 C79.0,182.5 83.0,183.3 87.0,184.0 C91.0,184.7 95.0,185.0 99.0,185.0 C103.0,185.0 107.7,184.3 111.0,184.0 C114.3,183.7 116.5,182.3 119.0,183.0 C121.5,183.7 123.5,186.8 126.0,188.0 C128.5,189.2 130.7,188.8 134.0,190.0 C137.3,191.2 141.7,194.0 146.0,195.0 C150.3,196.0 155.2,196.2 160.0,196.0 C164.8,195.8 169.3,194.7 175.0,194.0 C180.7,193.3 190.8,192.3 194.0,192.0" fill="none" stroke="#000" stroke-width="1.2" stroke-linejoin="round"/>
<path d="M30,193.3 L36,188.8 L44.9,186.6 L53.9,187.3 L58.3,191.8 L56.9,196.3 L41.9,197 L33,196.3Z" fill="none" stroke="#000" stroke-width="1.2" stroke-linejoin="round"/>
<path d="M36,194 L41.9,189.6 L49.4,188.8 L53.1,192.5 L49.4,195.5 L38.9,195.5Z" fill="none" stroke="#000" stroke-width="1.2" stroke-linejoin="round"/>
<path d="M62.8,172.4 L71.8,162.7 L86.7,157.5 L92.7,160.4 L95.7,170.9 L94.2,178.4 L89.7,181.3 L79.2,182.8 L70.3,181.3 L65.8,178.4Z" fill="none" stroke="#000" stroke-width="1.2" stroke-linejoin="round"/>
<path d="M68.8,176.9 L74.8,167.9 L86.7,161.9 L91.2,166.4 L92.7,176.9 L86.7,181.3 L76.3,182.1 L70.3,179.9Z" fill="none" stroke="#000" stroke-width="1.2" stroke-linejoin="round"/>
<path d="M110.0,163.0 C111.3,162.3 115.3,159.8 118.0,159.0 C120.7,158.2 123.7,157.3 126.0,158.0 C128.3,158.7 129.7,161.2 132.0,163.0 C134.3,164.8 137.3,167.3 140.0,169.0 C142.7,170.7 146.3,171.7 148.0,173.0 C149.7,174.3 151.0,175.7 150.0,177.0 C149.0,178.3 145.0,179.7 142.0,181.0 C139.0,182.3 135.0,184.0 132.0,185.0 C129.0,186.0 126.7,187.0 124.0,187.0 C121.3,187.0 118.3,185.7 116.0,185.0 C113.7,184.3 111.0,183.3 110.0,183.0" fill="none" stroke="#000" stroke-width="1.2" stroke-linejoin="round"/>
<path d="M114.0,167.0 C114.3,164.8 118.0,165.5 120.0,165.0 C122.0,164.5 124.3,163.3 126.0,164.0 C127.7,164.7 128.3,167.5 130.0,169.0 C131.7,170.5 134.0,172.0 136.0,173.0 C138.0,174.0 141.7,174.0 142.0,175.0 C142.3,176.0 140.0,177.8 138.0,179.0 C136.0,180.2 132.3,181.5 130.0,182.0 C127.7,182.5 126.0,182.7 124.0,182.0 C122.0,181.3 119.7,180.5 118.0,178.0 C116.3,175.5 113.7,169.2 114.0,167.0Z" fill="none" stroke="#000" stroke-width="1.2" stroke-linejoin="round"/>
<path d="M122.0,172.0 C122.5,170.7 124.7,169.5 126.0,170.0 C127.3,170.5 129.8,173.5 130.0,175.0 C130.2,176.5 128.2,178.5 127.0,179.0 C125.8,179.5 123.8,179.2 123.0,178.0 C122.2,176.8 121.5,173.3 122.0,172.0Z" fill="none" stroke="#000" stroke-width="1.2" stroke-linejoin="round"/>
<path d="M144.0,179.0 C146.0,177.3 150.7,180.2 154.0,181.0 C157.3,181.8 161.7,182.7 164.0,184.0 C166.3,185.3 168.3,187.7 168.0,189.0 C167.7,190.3 165.0,191.3 162.0,192.0 C159.0,192.7 153.3,193.2 150.0,193.0 C146.7,192.8 143.0,193.3 142.0,191.0 C141.0,188.7 142.0,180.7 144.0,179.0Z" fill="none" stroke="#000" stroke-width="1.2" stroke-linejoin="round"/>
<path d="M150.0,185.0 C150.5,184.3 154.5,185.3 156.0,186.0 C157.5,186.7 159.5,188.3 159.0,189.0 C158.5,189.7 154.5,190.7 153.0,190.0 C151.5,189.3 149.5,185.7 150.0,185.0Z" fill="none" stroke="#000" stroke-width="1.2" stroke-linejoin="round"/>
<path d="M172.0,185.0 C172.3,183.8 174.5,182.2 176.0,183.0 C177.5,183.8 180.7,188.3 181.0,190.0 C181.3,191.7 179.2,193.0 178.0,193.0 C176.8,193.0 175.0,191.3 174.0,190.0 C173.0,188.7 171.7,186.2 172.0,185.0Z" fill="none" stroke="#000" stroke-width="1.2" stroke-linejoin="round"/>
<path d="M27.0,182.1 C28.2,181.7 31.5,180.4 34.5,179.9 C37.5,179.4 41.4,178.9 44.9,179.1 C48.4,179.3 52.2,180.2 55.4,181.3 C58.6,182.4 61.6,184.6 64.3,185.8 C67.0,187.1 68.6,188.2 71.8,188.8 C75.0,189.4 80.0,189.7 83.7,189.6 C87.4,189.5 90.7,188.7 94.2,188.1 C97.7,187.5 100.8,186.4 104.6,185.8 C108.4,185.2 114.9,184.6 117.0,184.3" fill="none" stroke="#000" stroke-width="1.2" stroke-linejoin="round"/>
<path d="M68.8,188.8 C69.8,189.1 71.8,190.3 74.8,190.3 C77.8,190.3 83.5,188.1 86.7,188.8 C89.9,189.6 92.2,193.3 94.2,194.8 C96.2,196.3 97.9,197.5 98.6,198.0" fill="none" stroke="#000" stroke-width="1.2" stroke-linejoin="round"/>
<path d="M110.0,102.0 C111.3,101.8 115.3,100.7 118.0,101.0 C120.7,101.3 123.7,103.2 126.0,104.0 C128.3,104.8 131.0,105.7 132.0,106.0" fill="none" stroke="#000" stroke-width="0.95" stroke-dasharray="2,1.3" stroke-linejoin="round"/>
<path d="M110.0,112.0 C112.0,111.8 118.0,111.0 122.0,111.0 C126.0,111.0 130.7,111.3 134.0,112.0 C137.3,112.7 138.7,113.8 142.0,115.0 C145.3,116.2 150.0,118.3 154.0,119.0 C158.0,119.7 162.0,118.8 166.0,119.0 C170.0,119.2 174.0,119.5 178.0,120.0 C182.0,120.5 187.3,121.5 190.0,122.0 C192.7,122.5 193.3,122.8 194.0,123.0" fill="none" stroke="#000" stroke-width="0.95" stroke-dasharray="2,1.3" stroke-linejoin="round"/>
<path d="M110.0,117.0 C112.0,116.8 118.0,115.8 122.0,116.0 C126.0,116.2 130.0,117.0 134.0,118.0 C138.0,119.0 141.7,121.3 146.0,122.0 C150.3,122.7 155.3,121.7 160.0,122.0 C164.7,122.3 168.3,123.3 174.0,124.0 C179.7,124.7 190.7,125.7 194.0,126.0" fill="none" stroke="#000" stroke-width="0.95" stroke-dasharray="2,1.3" stroke-linejoin="round"/>
<path d="M27.0,141.0 C28.3,141.5 32.3,143.3 35.0,144.0 C37.7,144.7 40.7,145.5 43.0,145.0 C45.3,144.5 47.3,142.7 49.0,141.0 C50.7,139.3 51.7,137.3 53.0,135.0 C54.3,132.7 56.0,129.3 57.0,127.0 C58.0,124.7 58.2,123.0 59.0,121.0 C59.8,119.0 60.5,116.7 62.0,115.0 C63.5,113.3 67.0,111.7 68.0,111.0" fill="none" stroke="#000" stroke-width="0.95" stroke-dasharray="2,1.3" stroke-linejoin="round"/>
<path d="M57.0,143.0 C58.3,143.3 62.3,145.0 65.0,145.0 C67.7,145.0 70.7,144.7 73.0,143.0 C75.3,141.3 78.2,138.0 79.0,135.0 C79.8,132.0 79.0,127.7 78.0,125.0 C77.0,122.3 75.2,120.2 73.0,119.0 C70.8,117.8 67.2,117.5 65.0,118.0 C62.8,118.5 60.8,121.3 60.0,122.0" fill="none" stroke="#000" stroke-width="0.95" stroke-dasharray="2,1.3" stroke-linejoin="round"/>
<path d="M85.0,145.0 C86.3,145.3 90.0,146.5 93.0,147.0 C96.0,147.5 100.0,148.0 103.0,148.0 C106.0,148.0 108.3,147.5 111.0,147.0 C113.7,146.5 116.5,145.2 119.0,145.0 C121.5,144.8 124.8,145.8 126.0,146.0" fill="none" stroke="#000" stroke-width="0.95" stroke-dasharray="2,1.3" stroke-linejoin="round"/>
<path d="M88.0,138.0 C88.7,136.7 90.0,132.3 92.0,130.0 C94.0,127.7 97.0,125.7 100.0,124.0 C103.0,122.3 108.3,120.7 110.0,120.0" fill="none" stroke="#000" stroke-width="0.95" stroke-dasharray="2,1.3" stroke-linejoin="round"/>
<path d="M35.0,111.0 C35.7,110.7 37.3,108.8 39.0,109.0 C40.7,109.2 43.5,110.5 45.0,112.0 C46.5,113.5 47.2,115.5 48.0,118.0 C48.8,120.5 49.3,124.5 50.0,127.0 C50.7,129.5 51.7,132.0 52.0,133.0" fill="none" stroke="#000" stroke-width="0.95" stroke-dasharray="2,1.3" stroke-linejoin="round"/>
<path d="M68.0,119.0 C69.2,118.3 72.5,116.0 75.0,115.0 C77.5,114.0 80.2,113.5 83.0,113.0 C85.8,112.5 88.8,112.5 92.0,112.0 C95.2,111.5 99.0,110.7 102.0,110.0 C105.0,109.3 108.7,108.3 110.0,108.0" fill="none" stroke="#000" stroke-width="0.95" stroke-dasharray="2,1.3" stroke-linejoin="round"/>
<path d="M86.0,126.0 C87.0,125.3 89.7,123.2 92.0,122.0 C94.3,120.8 97.3,119.8 100.0,119.0 C102.7,118.2 106.7,117.3 108.0,117.0" fill="none" stroke="#000" stroke-width="0.95" stroke-dasharray="2,1.3" stroke-linejoin="round"/>
<path d="M40.0,125.0 C40.5,123.7 43.7,123.5 45.0,124.0 C46.3,124.5 47.8,126.5 48.0,128.0 C48.2,129.5 47.0,132.3 46.0,133.0 C45.0,133.7 43.0,133.3 42.0,132.0 C41.0,130.7 39.5,126.3 40.0,125.0Z" fill="none" stroke="#000" stroke-width="0.95" stroke-dasharray="2,1.3" stroke-linejoin="round"/>
<path d="M64.0,130.0 C64.5,128.8 66.8,127.8 68.0,128.0 C69.2,128.2 71.0,129.7 71.0,131.0 C71.0,132.3 69.0,135.3 68.0,136.0 C67.0,136.7 65.7,136.0 65.0,135.0 C64.3,134.0 63.5,131.2 64.0,130.0Z" fill="none" stroke="#000" stroke-width="0.95" stroke-dasharray="2,1.3" stroke-linejoin="round"/>
<path d="M96.0,135.0 C96.7,133.7 101.3,131.7 104.0,131.0 C106.7,130.3 110.0,130.5 112.0,131.0 C114.0,131.5 116.3,132.8 116.0,134.0 C115.7,135.2 112.7,137.2 110.0,138.0 C107.3,138.8 102.3,139.5 100.0,139.0 C97.7,138.5 95.3,136.3 96.0,135.0Z" fill="none" stroke="#000" stroke-width="0.95" stroke-dasharray="2,1.3" stroke-linejoin="round"/>
<path d="M126.0,115.0 C128.0,115.3 134.0,116.2 138.0,117.0 C142.0,117.8 146.0,118.8 150.0,120.0 C154.0,121.2 158.0,122.8 162.0,124.0 C166.0,125.2 170.0,126.0 174.0,127.0 C178.0,128.0 182.7,129.2 186.0,130.0 C189.3,130.8 192.7,131.7 194.0,132.0" fill="none" stroke="#000" stroke-width="0.95" stroke-dasharray="2,1.3" stroke-linejoin="round"/>
<path d="M166.0,117.0 C168.0,117.3 174.0,118.0 178.0,119.0 C182.0,120.0 187.3,122.2 190.0,123.0 C192.7,123.8 193.3,123.8 194.0,124.0" fill="none" stroke="#000" stroke-width="0.95" stroke-dasharray="2,1.3" stroke-linejoin="round"/>
<path d="M110.0,133.0 C111.3,133.7 115.0,135.7 118.0,137.0 C121.0,138.3 124.7,139.3 128.0,141.0 C131.3,142.7 134.7,145.3 138.0,147.0 C141.3,148.7 144.7,149.8 148.0,151.0 C151.3,152.2 155.0,153.0 158.0,154.0 C161.0,155.0 164.0,155.5 166.0,157.0 C168.0,158.5 168.7,161.0 170.0,163.0 C171.3,165.0 172.0,167.5 174.0,169.0 C176.0,170.5 178.7,171.5 182.0,172.0 C185.3,172.5 192.0,172.0 194.0,172.0" fill="none" stroke="#000" stroke-width="0.95" stroke-dasharray="2,1.3" stroke-linejoin="round"/>
<path d="M122.0,139.0 C123.7,140.0 128.7,143.2 132.0,145.0 C135.3,146.8 138.7,148.5 142.0,150.0 C145.3,151.5 148.7,152.7 152.0,154.0 C155.3,155.3 159.7,156.5 162.0,158.0 C164.3,159.5 164.7,161.0 166.0,163.0 C167.3,165.0 168.0,168.2 170.0,170.0 C172.0,171.8 174.0,173.2 178.0,174.0 C182.0,174.8 191.3,174.8 194.0,175.0" fill="none" stroke="#000" stroke-width="0.95" stroke-dasharray="2,1.3" stroke-linejoin="round"/>
<path d="M146.0,155.0 C147.7,155.7 153.3,157.5 156.0,159.0 C158.7,160.5 160.3,162.0 162.0,164.0 C163.7,166.0 164.3,169.0 166.0,171.0 C167.7,173.0 169.3,174.8 172.0,176.0 C174.7,177.2 178.3,177.7 182.0,178.0 C185.7,178.3 192.0,178.0 194.0,178.0" fill="none" stroke="#000" stroke-width="0.95" stroke-dasharray="2,1.3" stroke-linejoin="round"/>
<path d="M128.0,135.0 C129.0,133.8 132.3,132.2 136.0,132.0 C139.7,131.8 146.7,132.8 150.0,134.0 C153.3,135.2 155.3,137.3 156.0,139.0 C156.7,140.7 156.3,143.3 154.0,144.0 C151.7,144.7 146.0,143.8 142.0,143.0 C138.0,142.2 132.3,140.3 130.0,139.0 C127.7,137.7 127.0,136.2 128.0,135.0Z" fill="none" stroke="#000" stroke-width="0.95" stroke-dasharray="2,1.3" stroke-linejoin="round"/>
<path d="M158.0,141.0 C159.0,139.8 163.3,139.0 166.0,139.0 C168.7,139.0 172.3,140.0 174.0,141.0 C175.7,142.0 177.0,144.0 176.0,145.0 C175.0,146.0 170.7,146.8 168.0,147.0 C165.3,147.2 161.7,147.0 160.0,146.0 C158.3,145.0 157.0,142.2 158.0,141.0Z" fill="none" stroke="#000" stroke-width="0.95" stroke-dasharray="2,1.3" stroke-linejoin="round"/>
<path d="M176.0,165.0 C177.0,164.2 181.3,163.8 184.0,164.0 C186.7,164.2 190.3,165.2 192.0,166.0 C193.7,166.8 195.3,168.3 194.0,169.0 C192.7,169.7 186.7,170.1 184.0,170.0 C181.3,169.9 179.3,169.4 178.0,168.6 C176.7,167.8 175.0,165.8 176.0,165.0Z" fill="none" stroke="#000" stroke-width="0.95" stroke-dasharray="2,1.3" stroke-linejoin="round"/>
<path d="M112.0,122.0 C113.0,121.2 117.7,123.0 120.0,124.0 C122.3,125.0 125.7,126.8 126.0,128.0 C126.3,129.2 124.0,130.8 122.0,131.0 C120.0,131.2 115.7,130.5 114.0,129.0 C112.3,127.5 111.0,122.8 112.0,122.0Z" fill="none" stroke="#000" stroke-width="0.95" stroke-dasharray="2,1.3" stroke-linejoin="round"/>
<path d="M184.0,139.0 C185.0,140.0 188.3,143.3 190.0,145.0 C191.7,146.7 193.3,148.3 194.0,149.0" fill="none" stroke="#000" stroke-width="0.95" stroke-dasharray="2,1.3" stroke-linejoin="round"/>
<path d="M126.0,115.0 C128.0,115.3 134.0,116.2 138.0,117.0 C142.0,117.8 146.0,118.8 150.0,120.0 C154.0,121.2 158.0,122.8 162.0,124.0 C166.0,125.2 170.0,126.0 174.0,127.0 C178.0,128.0 182.7,129.2 186.0,130.0 C189.3,130.8 192.7,131.7 194.0,132.0" fill="none" stroke="#000" stroke-width="0.95" stroke-dasharray="2,1.3" stroke-linejoin="round"/>
<path d="M166.0,117.0 C168.0,117.3 174.0,118.0 178.0,119.0 C182.0,120.0 187.3,122.2 190.0,123.0 C192.7,123.8 193.3,123.8 194.0,124.0" fill="none" stroke="#000" stroke-width="0.95" stroke-dasharray="2,1.3" stroke-linejoin="round"/>
<path d="M110.0,133.0 C111.3,133.7 115.0,135.7 118.0,137.0 C121.0,138.3 124.7,139.3 128.0,141.0 C131.3,142.7 134.7,145.3 138.0,147.0 C141.3,148.7 144.7,149.8 148.0,151.0 C151.3,152.2 155.0,153.0 158.0,154.0 C161.0,155.0 164.0,155.5 166.0,157.0 C168.0,158.5 168.7,161.0 170.0,163.0 C171.3,165.0 172.0,167.5 174.0,169.0 C176.0,170.5 178.7,171.5 182.0,172.0 C185.3,172.5 192.0,172.0 194.0,172.0" fill="none" stroke="#000" stroke-width="0.95" stroke-dasharray="2,1.3" stroke-linejoin="round"/>
<path d="M122.0,139.0 C123.7,140.0 128.7,143.2 132.0,145.0 C135.3,146.8 138.7,148.5 142.0,150.0 C145.3,151.5 148.7,152.7 152.0,154.0 C155.3,155.3 159.7,156.5 162.0,158.0 C164.3,159.5 164.7,161.0 166.0,163.0 C167.3,165.0 168.0,168.2 170.0,170.0 C172.0,171.8 174.0,173.2 178.0,174.0 C182.0,174.8 191.3,174.8 194.0,175.0" fill="none" stroke="#000" stroke-width="0.95" stroke-dasharray="2,1.3" stroke-linejoin="round"/>
<path d="M146.0,155.0 C147.7,155.7 153.3,157.5 156.0,159.0 C158.7,160.5 160.3,162.0 162.0,164.0 C163.7,166.0 164.3,169.0 166.0,171.0 C167.7,173.0 169.3,174.8 172.0,176.0 C174.7,177.2 178.3,177.7 182.0,178.0 C185.7,178.3 192.0,178.0 194.0,178.0" fill="none" stroke="#000" stroke-width="0.95" stroke-dasharray="2,1.3" stroke-linejoin="round"/>
<path d="M128.0,135.0 C129.0,133.8 132.3,132.2 136.0,132.0 C139.7,131.8 146.7,132.8 150.0,134.0 C153.3,135.2 155.3,137.3 156.0,139.0 C156.7,140.7 156.3,143.3 154.0,144.0 C151.7,144.7 146.0,143.8 142.0,143.0 C138.0,142.2 132.3,140.3 130.0,139.0 C127.7,137.7 127.0,136.2 128.0,135.0Z" fill="none" stroke="#000" stroke-width="0.95" stroke-dasharray="2,1.3" stroke-linejoin="round"/>
<path d="M158.0,141.0 C159.0,139.8 163.3,139.0 166.0,139.0 C168.7,139.0 172.3,140.0 174.0,141.0 C175.7,142.0 177.0,144.0 176.0,145.0 C175.0,146.0 170.7,146.8 168.0,147.0 C165.3,147.2 161.7,147.0 160.0,146.0 C158.3,145.0 157.0,142.2 158.0,141.0Z" fill="none" stroke="#000" stroke-width="0.95" stroke-dasharray="2,1.3" stroke-linejoin="round"/>
<path d="M176.0,165.0 C177.0,164.2 181.3,163.8 184.0,164.0 C186.7,164.2 190.3,165.2 192.0,166.0 C193.7,166.8 195.3,168.3 194.0,169.0 C192.7,169.7 186.7,170.1 184.0,170.0 C181.3,169.9 179.3,169.4 178.0,168.6 C176.7,167.8 175.0,165.8 176.0,165.0Z" fill="none" stroke="#000" stroke-width="0.95" stroke-dasharray="2,1.3" stroke-linejoin="round"/>
<path d="M112.0,122.0 C113.0,121.2 117.7,123.0 120.0,124.0 C122.3,125.0 125.7,126.8 126.0,128.0 C126.3,129.2 124.0,130.8 122.0,131.0 C120.0,131.2 115.7,130.5 114.0,129.0 C112.3,127.5 111.0,122.8 112.0,122.0Z" fill="none" stroke="#000" stroke-width="0.95" stroke-dasharray="2,1.3" stroke-linejoin="round"/>
<path d="M184.0,139.0 C185.0,140.0 188.3,143.3 190.0,145.0 C191.7,146.7 193.3,148.3 194.0,149.0" fill="none" stroke="#000" stroke-width="0.95" stroke-dasharray="2,1.3" stroke-linejoin="round"/>
</g>
<path d="M27.30,43.80v-5.9 M27.30,197.20v5.9 M52.84,43.80v-2.8 M52.84,197.20v2.8 M78.38,43.80v-2.8 M78.38,197.20v2.8 M103.92,43.80v-5.9 M103.92,197.20v5.9 M129.45,43.80v-2.8 M129.45,197.20v2.8 M154.99,43.80v-2.8 M154.99,197.20v2.8 M180.53,43.80v-5.9 M180.53,197.20v5.9 M27.30,197.20h-2.6 M193.30,197.20h2.6 M27.30,184.42h-2.6 M193.30,184.42h2.6 M27.30,171.63h-5.6 M193.30,171.63h5.6 M27.30,158.85h-2.6 M193.30,158.85h2.6 M27.30,146.07h-2.6 M193.30,146.07h2.6 M27.30,133.28h-2.6 M193.30,133.28h2.6 M27.30,120.50h-5.6 M193.30,120.50h5.6 M27.30,107.72h-2.6 M193.30,107.72h2.6 M27.30,94.93h-2.6 M193.30,94.93h2.6 M27.30,82.15h-2.6 M193.30,82.15h2.6 M27.30,69.37h-5.6 M193.30,69.37h5.6 M27.30,56.58h-2.6 M193.30,56.58h2.6 M27.30,43.80h-2.6 M193.30,43.80h2.6" stroke="#000" stroke-width="1.1" fill="none"/>
<rect x="27.3" y="43.8" width="166.0" height="153.4" fill="none" stroke="#000" stroke-width="1.3"/>
<text x="19.00" y="216.60" font-size="10.2" textLength="16.6" lengthAdjust="spacingAndGlyphs">90E</text>
<text x="93.62" y="216.60" font-size="10.2" textLength="20.6" lengthAdjust="spacingAndGlyphs">120E</text>
<text x="170.23" y="216.60" font-size="10.2" textLength="20.6" lengthAdjust="spacingAndGlyphs">150E</text>
<text x="10.80" y="176.13" font-size="10.2" textLength="5.6" lengthAdjust="spacingAndGlyphs">0</text>
<text x="-0.60" y="125.00" font-size="10.2" textLength="17.0" lengthAdjust="spacingAndGlyphs">20N</text>
<text x="-0.60" y="73.87" font-size="10.2" textLength="17.0" lengthAdjust="spacingAndGlyphs">40N</text>
<text x="26.70" y="33.90" font-size="11.0" textLength="37.9" lengthAdjust="spacingAndGlyphs">(a)OBS</text>
<text x="164.30" y="33.80" font-size="9.9" textLength="30.2" lengthAdjust="spacingAndGlyphs">Precip.</text>
<g clip-path="url(#c01)">
<path d="M265.0,51.0 C265.7,50.0 267.3,48.8 269.0,48.0 C270.7,47.2 273.3,46.5 275.0,46.0 C276.7,45.5 278.2,44.5 279.0,45.0 C279.8,45.5 279.0,48.0 280.0,49.0 C281.0,50.0 283.2,50.3 285.0,51.0 C286.8,51.7 289.0,52.2 291.0,53.0 C293.0,53.8 296.7,55.3 297.0,56.0 C297.3,56.7 295.0,57.3 293.0,57.4 C291.0,57.5 287.3,57.0 285.0,56.6 C282.7,56.2 281.3,55.2 279.0,55.0 C276.7,54.8 273.3,55.6 271.0,55.4 C268.7,55.2 266.0,54.7 265.0,54.0 C264.0,53.3 264.3,52.0 265.0,51.0Z" fill="#FFD700"/>
<path d="M273.0,43.0 C273.8,42.5 278.0,42.5 279.0,43.0 C280.0,43.5 279.8,45.5 279.0,46.0 C278.2,46.5 275.0,46.5 274.0,46.0 C273.0,45.5 272.2,43.5 273.0,43.0Z" fill="#FFD700"/>
<path d="M231.0,60.0 C231.5,58.7 233.2,57.8 234.0,58.0 C234.8,58.2 235.8,59.8 236.0,61.0 C236.2,62.2 235.8,64.2 235.0,65.0 C234.2,65.8 231.7,66.8 231.0,66.0 C230.3,65.2 230.5,61.3 231.0,60.0Z" fill="#FFD700"/>
<path d="M233.0,81.0 C233.8,80.0 235.0,79.0 237.0,79.0 C239.0,79.0 243.0,80.3 245.0,81.0 C247.0,81.7 248.2,81.8 249.0,83.0 C249.8,84.2 250.3,86.8 250.0,88.0 C249.7,89.2 248.5,89.7 247.0,90.0 C245.5,90.3 243.0,90.3 241.0,90.0 C239.0,89.7 236.5,88.8 235.0,88.0 C233.5,87.2 232.3,86.2 232.0,85.0 C231.7,83.8 232.2,82.0 233.0,81.0Z" fill="#FFD700"/>
<path d="M252.0,86.0 C252.5,84.7 255.3,82.5 257.0,82.0 C258.7,81.5 261.0,82.3 262.0,83.0 C263.0,83.7 263.5,85.0 263.0,86.0 C262.5,87.0 260.5,88.3 259.0,89.0 C257.5,89.7 255.2,90.5 254.0,90.0 C252.8,89.5 251.5,87.3 252.0,86.0Z" fill="#FFD700"/>
<path d="M248.0,72.5 C248.5,72.1 251.2,71.8 252.0,72.0 C252.8,72.2 253.5,73.6 253.0,74.0 C252.5,74.4 249.8,74.8 249.0,74.5 C248.2,74.2 247.5,72.9 248.0,72.5Z" fill="#FFD700"/>
<path d="M269.0,89.0 C269.7,87.3 270.7,85.5 272.0,85.0 C273.3,84.5 275.2,85.7 277.0,86.0 C278.8,86.3 281.0,87.2 283.0,87.0 C285.0,86.8 287.0,86.0 289.0,85.0 C291.0,84.0 293.5,82.5 295.0,81.0 C296.5,79.5 297.3,77.7 298.0,76.0 C298.7,74.3 298.2,72.3 299.0,71.0 C299.8,69.7 301.8,68.0 303.0,68.0 C304.2,68.0 305.3,69.5 306.0,71.0 C306.7,72.5 307.3,75.0 307.0,77.0 C306.7,79.0 305.0,81.0 304.0,83.0 C303.0,85.0 301.2,87.0 301.0,89.0 C300.8,91.0 302.2,93.2 303.0,95.0 C303.8,96.8 305.7,98.3 306.0,100.0 C306.3,101.7 305.8,103.3 305.0,105.0 C304.2,106.7 302.7,108.8 301.0,110.0 C299.3,111.2 297.3,111.8 295.0,112.0 C292.7,112.2 289.3,111.5 287.0,111.0 C284.7,110.5 283.0,109.7 281.0,109.0 C279.0,108.3 276.7,108.0 275.0,107.0 C273.3,106.0 272.7,103.7 271.0,103.0 C269.3,102.3 266.7,103.3 265.0,103.0 C263.3,102.7 262.0,102.0 261.0,101.0 C260.0,100.0 258.7,98.0 259.0,97.0 C259.3,96.0 261.5,95.3 263.0,95.0 C264.5,94.7 267.0,96.0 268.0,95.0 C269.0,94.0 268.3,90.7 269.0,89.0Z" fill="#FFD700"/>
<path d="M310.0,80.0 C310.8,79.5 314.3,81.0 315.0,82.0 C315.7,83.0 314.8,85.5 314.0,86.0 C313.2,86.5 310.7,86.0 310.0,85.0 C309.3,84.0 309.2,80.5 310.0,80.0Z" fill="#FFD700"/>
<path d="M315.0,93.0 C315.8,91.8 319.0,90.7 320.0,91.0 C321.0,91.3 321.2,93.7 321.0,95.0 C320.8,96.3 320.0,98.5 319.0,99.0 C318.0,99.5 315.7,99.0 315.0,98.0 C314.3,97.0 314.2,94.2 315.0,93.0Z" fill="#FFD700"/>
<path d="M229.0,101.0 C230.0,98.5 233.0,98.7 235.0,98.0 C237.0,97.3 239.0,96.8 241.0,97.0 C243.0,97.2 245.5,98.0 247.0,99.0 C248.5,100.0 249.7,101.5 250.0,103.0 C250.3,104.5 249.8,106.8 249.0,108.0 C248.2,109.2 246.7,109.7 245.0,110.0 C243.3,110.3 240.7,109.7 239.0,110.0 C237.3,110.3 236.7,111.5 235.0,112.0 C233.3,112.5 230.0,114.8 229.0,113.0 C228.0,111.2 228.0,103.5 229.0,101.0Z" fill="#FFD700"/>
<path d="M257.0,101.0 C257.3,100.0 260.0,99.5 261.0,100.0 C262.0,100.5 263.3,103.0 263.0,104.0 C262.7,105.0 260.0,106.5 259.0,106.0 C258.0,105.5 256.7,102.0 257.0,101.0Z" fill="#FFD700"/>
<path d="M324.0,58.0 C324.7,57.4 328.0,56.7 330.0,56.6 C332.0,56.5 335.3,56.8 336.0,57.4 C336.7,58.0 335.7,59.6 334.0,60.0 C332.3,60.4 327.7,60.3 326.0,60.0 C324.3,59.7 323.3,58.6 324.0,58.0Z" fill="#FFD700"/>
<path d="M370.0,56.0 C370.8,55.6 373.7,56.3 374.0,57.0 C374.3,57.7 372.8,59.6 372.0,60.0 C371.2,60.4 369.3,60.2 369.0,59.5 C368.7,58.8 369.2,56.4 370.0,56.0Z" fill="#FFD700"/>
<path d="M312.0,71.0 C312.5,70.5 314.7,72.2 315.0,73.0 C315.3,73.8 314.5,75.5 314.0,76.0 C313.5,76.5 312.3,76.8 312.0,76.0 C311.7,75.2 311.5,71.5 312.0,71.0Z" fill="#FFD700"/>
<path d="M327.9,88.1 C328.3,87.4 330.4,86.8 331.3,87.0 C332.2,87.2 333.0,88.5 333.1,89.3 C333.2,90.1 332.6,91.3 331.9,91.6 C331.2,91.9 329.7,91.6 329.0,91.0 C328.3,90.4 327.5,88.8 327.9,88.1Z" fill="#FFD700"/>
<path d="M315.0,90.4 C316.0,89.7 318.3,89.7 319.7,89.9 C321.1,90.1 322.8,90.7 323.2,91.6 C323.6,92.5 322.8,93.9 322.0,95.1 C321.2,96.3 319.6,97.8 318.6,98.6 C317.7,99.4 317.1,99.9 316.3,99.7 C315.5,99.5 314.3,98.4 313.9,97.4 C313.5,96.4 313.7,95.1 313.9,93.9 C314.1,92.7 314.0,91.1 315.0,90.4Z" fill="#FFD700"/>
<path d="M318.6,107.9 C319.2,106.6 321.9,103.0 323.2,101.5 C324.5,100.0 325.3,99.3 326.7,98.6 C328.1,97.9 329.6,97.8 331.3,97.4 C333.0,97.0 335.6,96.6 337.1,96.3 C338.7,96.0 339.4,95.7 340.6,95.7 C341.8,95.7 343.2,95.8 344.1,96.3 C345.0,96.8 345.5,97.6 345.9,98.6 C346.3,99.5 345.9,100.8 346.4,102.0 C346.9,103.2 348.0,104.6 348.8,105.5 C349.6,106.4 351.1,106.7 351.1,107.3 C351.1,107.9 350.0,108.3 348.8,109.0 C347.6,109.7 345.7,110.6 344.1,111.3 C342.6,112.0 341.1,112.4 339.5,113.0 C337.9,113.6 336.4,114.4 334.8,114.8 C333.2,115.2 331.8,115.6 330.2,115.4 C328.6,115.2 326.7,114.4 325.5,113.7 C324.3,113.0 324.2,112.0 323.2,111.3 C322.2,110.6 320.5,110.2 319.7,109.6 C318.9,109.0 318.0,109.2 318.6,107.9Z" fill="#FFD700"/>
<path d="M353.4,95.1 C353.7,94.1 354.9,93.0 355.7,92.8 C356.5,92.6 357.0,93.1 358.0,93.9 C359.0,94.7 360.3,96.2 361.5,97.4 C362.7,98.6 364.0,99.9 365.0,100.9 C366.0,101.9 367.3,102.6 367.3,103.2 C367.3,103.8 366.1,104.4 365.0,104.4 C363.9,104.4 361.8,103.8 360.4,103.2 C359.0,102.6 358.0,101.7 356.9,100.9 C355.8,100.1 354.6,99.6 354.0,98.6 C353.4,97.6 353.1,96.1 353.4,95.1Z" fill="#FFD700"/>
<path d="M356.9,87.0 C357.7,86.3 360.4,86.2 361.5,86.4 C362.6,86.6 363.6,87.2 363.8,88.1 C364.0,89.0 363.5,90.9 362.7,91.6 C361.9,92.3 360.2,92.4 359.2,92.2 C358.2,92.0 357.3,91.3 356.9,90.4 C356.5,89.5 356.1,87.7 356.9,87.0Z" fill="#FFD700"/>
<path d="M365.0,90.4 C365.6,90.0 368.9,89.5 369.7,89.9 C370.5,90.3 370.6,92.4 370.0,92.8 C369.4,93.2 367.0,92.6 366.2,92.2 C365.4,91.8 364.4,90.8 365.0,90.4Z" fill="#FFD700"/>
<path d="M339.5,91.6 C339.7,90.9 341.9,90.8 343.0,91.0 C344.1,91.2 345.9,91.9 346.4,92.8 C346.9,93.7 346.7,95.9 345.9,96.3 C345.1,96.7 342.9,95.9 341.8,95.1 C340.7,94.3 339.3,92.3 339.5,91.6Z" fill="#FFD700"/>
<path d="M309.3,82.3 C309.7,81.5 311.9,81.3 312.8,81.7 C313.8,82.1 315.0,83.7 315.0,84.6 C315.0,85.5 313.6,86.7 312.8,87.0 C312.0,87.3 311.0,87.2 310.4,86.4 C309.8,85.6 308.9,83.1 309.3,82.3Z" fill="#FFD700"/>
<path d="M373.0,100.0 C373.7,99.3 376.8,98.8 378.0,99.0 C379.2,99.2 380.0,100.3 380.0,101.0 C380.0,101.7 379.0,102.7 378.0,103.0 C377.0,103.3 374.8,103.5 374.0,103.0 C373.2,102.5 372.3,100.7 373.0,100.0Z" fill="#FFD700"/>
<path d="M388.0,97.0 C388.5,96.7 390.5,96.2 391.0,96.5 C391.5,96.8 391.5,98.2 391.0,98.5 C390.5,98.8 388.5,98.8 388.0,98.5 C387.5,98.2 387.5,97.3 388.0,97.0Z" fill="#FFD700"/>
<path d="M355.0,68.5 C355.2,68.0 356.6,67.6 357.0,68.0 C357.4,68.4 357.8,70.5 357.5,71.0 C357.2,71.5 355.9,71.4 355.5,71.0 C355.1,70.6 354.8,69.0 355.0,68.5Z" fill="#FFD700"/>
<path d="M252.5,100.2 C253.4,100.0 254.0,103.9 255.1,105.4 C256.2,106.9 257.5,108.4 259.0,109.3 C260.5,110.2 262.0,110.0 264.2,110.7 C266.4,111.4 269.6,112.7 272.0,113.3 C274.4,113.9 276.6,114.1 278.6,114.6 C280.6,115.1 281.4,116.4 283.8,116.5 C286.2,116.6 290.0,115.0 292.8,115.2 C295.6,115.4 298.1,117.2 300.7,117.8 C303.3,118.4 305.9,118.7 308.5,119.1 C311.1,119.5 313.7,120.0 316.3,120.4 C318.9,120.8 321.1,121.4 324.1,121.7 C327.2,122.0 332.0,122.2 334.6,122.3 C337.2,122.3 336.9,122.3 340.0,122.0 C343.1,121.7 348.7,120.9 353.0,120.7 C357.3,120.5 362.7,120.8 366.0,120.7 C369.3,120.6 370.4,119.8 372.6,120.0 C374.8,120.2 376.7,121.6 379.1,122.0 C381.5,122.4 384.2,122.4 387.0,122.6 C389.8,122.8 394.5,114.1 396.0,123.3 C397.5,132.4 396.7,168.7 396.0,177.5 C395.3,186.3 394.2,177.1 391.9,176.3 C389.6,175.5 385.1,173.6 382.3,172.7 C379.5,171.8 377.1,171.3 375.0,170.7 C372.9,170.1 371.5,169.5 369.8,168.9 C368.1,168.3 366.2,167.9 364.6,167.2 C363.0,166.5 361.6,165.6 360.2,164.6 C358.8,163.6 357.0,162.1 355.9,161.1 C354.8,160.1 354.2,159.4 353.3,158.5 C352.4,157.6 350.9,156.9 350.2,155.9 C349.5,154.9 349.0,153.6 348.9,152.4 C348.8,151.2 350.4,149.7 349.8,148.9 C349.2,148.1 347.0,147.9 345.4,147.6 C343.8,147.3 341.9,147.4 340.2,147.2 C338.5,147.0 336.4,146.8 335.0,146.3 C333.6,145.8 332.9,144.6 332.0,144.0 C331.1,143.4 330.6,143.0 329.3,142.6 C328.0,142.2 325.4,140.9 324.1,141.3 C322.8,141.7 322.6,143.9 321.5,145.2 C320.4,146.5 318.9,147.8 317.6,149.1 C316.3,150.4 315.2,151.9 313.7,153.0 C312.2,154.1 310.4,155.0 308.5,155.7 C306.6,156.4 303.8,157.2 302.0,157.0 C300.2,156.8 298.9,155.6 298.0,154.3 C297.1,153.0 298.2,150.2 296.7,149.1 C295.2,148.0 291.6,148.0 289.0,148.0 C286.4,148.0 283.6,148.9 281.2,149.0 C278.8,149.1 276.8,148.7 274.6,148.5 C272.4,148.3 270.3,147.7 268.1,147.7 C265.9,147.7 263.8,148.6 261.6,148.5 C259.4,148.4 257.3,147.6 255.1,147.2 C252.9,146.8 250.8,145.9 248.6,145.9 C246.4,145.9 244.0,147.2 242.0,147.2 C240.0,147.2 238.1,146.8 236.8,145.9 C235.5,145.0 234.4,144.0 234.2,142.0 C234.0,140.0 234.8,136.3 235.5,134.1 C236.2,131.9 237.0,130.2 238.1,128.9 C239.2,127.6 240.7,127.0 242.0,126.3 C243.3,125.6 244.7,125.9 246.0,125.0 C247.3,124.1 249.5,122.8 249.9,121.1 C250.3,119.4 248.6,117.0 248.6,114.6 C248.6,112.2 249.2,109.1 249.9,106.7 C250.6,104.3 251.6,100.4 252.5,100.2Z" fill="#00FFFF"/>
<path d="M256.4,110.7 C256.9,110.0 259.2,111.1 260.3,112.0 C261.4,112.9 262.9,114.9 262.9,115.9 C262.9,116.9 261.3,117.8 260.3,117.8 C259.3,117.8 257.6,117.1 257.0,115.9 C256.4,114.7 255.8,111.4 256.4,110.7Z" fill="#fff"/>
<path d="M255.1,125.0 C256.2,124.1 258.6,123.3 260.3,123.7 C262.0,124.1 264.4,125.9 265.5,127.6 C266.6,129.3 267.0,132.1 266.8,134.1 C266.6,136.1 265.5,138.4 264.2,139.3 C262.9,140.2 260.5,140.2 259.0,139.3 C257.5,138.4 256.0,135.8 255.1,134.1 C254.2,132.4 253.8,130.4 253.8,128.9 C253.8,127.4 254.0,125.9 255.1,125.0Z" fill="#fff"/>
<path d="M268.1,121.1 C269.0,120.2 272.4,120.0 274.6,121.1 C276.8,122.2 280.5,125.6 281.2,127.6 C281.9,129.6 279.9,132.4 278.6,132.8 C277.3,133.2 274.8,131.3 273.3,130.2 C271.8,129.1 270.3,127.8 269.4,126.3 C268.5,124.8 267.2,122.0 268.1,121.1Z" fill="#fff"/>
<path d="M262.0,131.0 C263.0,129.3 267.0,128.0 270.0,128.0 C273.0,128.0 276.7,129.7 280.0,131.0 C283.3,132.3 287.3,134.3 290.0,136.0 C292.7,137.7 296.0,139.7 296.0,141.0 C296.0,142.3 292.7,143.5 290.0,144.0 C287.3,144.5 283.3,144.3 280.0,144.0 C276.7,143.7 272.7,143.0 270.0,142.0 C267.3,141.0 265.3,139.8 264.0,138.0 C262.7,136.2 261.0,132.7 262.0,131.0Z" fill="#fff"/>
<path d="M285.0,139.0 C285.3,138.2 288.0,136.8 289.0,137.0 C290.0,137.2 291.3,139.2 291.0,140.0 C290.7,140.8 288.0,142.2 287.0,142.0 C286.0,141.8 284.7,139.8 285.0,139.0Z" fill="#FFD700"/>
<path d="M308.5,124.3 C309.4,123.5 312.7,124.1 313.7,125.0 C314.7,125.9 314.7,128.5 314.3,129.6 C313.9,130.7 312.1,131.5 311.1,131.5 C310.1,131.5 308.9,130.8 308.5,129.6 C308.1,128.4 307.6,125.1 308.5,124.3Z" fill="#fff"/>
<path d="M312.4,136.1 C312.7,135.1 315.5,134.8 316.3,135.4 C317.1,136.1 317.3,139.0 317.0,140.0 C316.7,141.0 315.1,142.0 314.3,141.3 C313.5,140.7 312.1,137.1 312.4,136.1Z" fill="#fff"/>
<path d="M377.8,133.7 C378.9,132.9 381.9,132.8 384.3,133.0 C386.7,133.2 390.2,134.4 392.2,135.0 C394.1,135.6 395.4,135.4 396.0,136.3 C396.6,137.2 397.1,139.4 396.0,140.2 C394.9,141.0 391.8,141.0 389.6,140.9 C387.4,140.8 385.0,140.2 383.0,139.6 C381.0,139.0 378.7,138.6 377.8,137.6 C376.9,136.6 376.7,134.5 377.8,133.7Z" fill="#fff"/>
<path d="M390.0,144.0 C390.8,143.2 395.0,142.7 396.0,143.5 C397.0,144.3 396.8,148.2 396.0,149.0 C395.2,149.8 392.0,149.3 391.0,148.5 C390.0,147.7 389.2,144.8 390.0,144.0Z" fill="#fff"/>
<path d="M239.0,126.0 C240.5,123.7 245.3,123.3 248.0,124.0 C250.7,124.7 253.0,127.7 255.0,130.0 C257.0,132.3 258.5,135.7 260.0,138.0 C261.5,140.3 263.7,142.3 264.0,144.0 C264.3,145.7 264.0,147.5 262.0,148.0 C260.0,148.5 255.0,147.5 252.0,147.0 C249.0,146.5 246.2,146.5 244.0,145.0 C241.8,143.5 239.8,141.2 239.0,138.0 C238.2,134.8 237.5,128.3 239.0,126.0Z" fill="url(#stip)"/>
<path d="M265.0,126.0 C266.0,124.5 269.5,127.7 272.0,129.0 C274.5,130.3 277.5,132.2 280.0,134.0 C282.5,135.8 285.5,137.7 287.0,140.0 C288.5,142.3 290.0,146.5 289.0,148.0 C288.0,149.5 283.8,149.3 281.0,149.0 C278.2,148.7 274.5,147.8 272.0,146.0 C269.5,144.2 267.2,141.3 266.0,138.0 C264.8,134.7 264.0,127.5 265.0,126.0Z" fill="url(#stip)"/>
<path d="M298.0,124.3 C299.5,122.8 302.7,122.7 305.0,123.0 C307.3,123.3 309.8,124.3 312.0,126.0 C314.2,127.7 316.4,130.3 318.0,133.0 C319.6,135.7 321.5,139.2 321.5,142.0 C321.5,144.8 319.4,148.2 318.0,150.0 C316.6,151.8 315.3,152.2 313.0,153.0 C310.7,153.8 306.3,155.5 304.0,155.0 C301.7,154.5 300.2,152.5 299.0,150.0 C297.8,147.5 297.5,143.0 297.0,140.0 C296.5,137.0 295.8,134.6 296.0,132.0 C296.2,129.4 296.5,125.8 298.0,124.3Z" fill="url(#stip)"/>
<path d="M229,102.8 L235.5,101.5 L236.8,108 L235.5,114.6 L236.8,121.1 L234.2,125 L229,125Z" fill="url(#stipY)"/>
<path d="M265.9,157.8 C266.5,156.0 268.0,156.4 269.8,155.9 C271.6,155.4 274.2,154.9 276.7,154.9 C279.1,154.9 282.6,155.2 284.5,155.9 C286.4,156.6 287.2,158.0 288.4,158.8 C289.5,159.6 290.2,160.8 291.4,160.8 C292.5,160.8 294.2,159.5 295.3,158.8 C296.4,158.1 297.6,156.5 298.2,156.8 C298.8,157.1 298.4,160.0 299.2,160.8 C300.0,161.6 302.1,160.9 303.1,161.7 C304.1,162.5 305.3,164.4 305.1,165.7 C304.9,167.0 302.8,168.5 302.1,169.6 C301.4,170.7 300.5,171.7 301.1,172.5 C301.8,173.3 304.2,174.0 306.0,174.5 C307.8,175.0 310.2,174.8 312.0,175.4 C313.8,176.0 315.3,177.2 317.0,178.0 C318.7,178.8 320.5,181.8 322.0,180.0 C323.5,178.2 324.3,168.5 326.0,167.0 C327.7,165.5 330.0,169.7 332.0,171.0 C334.0,172.3 335.7,174.0 338.0,175.0 C340.3,176.0 343.7,176.3 346.0,177.0 C348.3,177.7 349.7,178.0 352.0,179.0 C354.3,180.0 357.3,182.0 360.0,183.0 C362.7,184.0 365.3,185.0 368.0,185.0 C370.7,185.0 373.7,183.7 376.0,183.0 C378.3,182.3 380.0,180.7 382.0,181.0 C384.0,181.3 388.0,183.7 388.0,185.0 C388.0,186.3 384.7,188.0 382.0,189.0 C379.3,190.0 375.3,190.3 372.0,191.0 C368.7,191.7 365.3,192.5 362.0,193.0 C358.7,193.5 355.3,193.7 352.0,194.0 C348.7,194.3 345.3,194.7 342.0,195.0 C338.7,195.3 335.3,195.8 332.0,196.0 C328.7,196.2 325.8,196.3 322.0,196.0 C318.2,195.7 313.2,194.5 309.0,194.0 C304.8,193.5 301.0,193.5 297.0,193.0 C293.0,192.5 288.7,191.7 285.0,191.0 C281.3,190.3 277.7,190.0 275.0,189.0 C272.3,188.0 270.7,186.7 269.0,185.0 C267.3,183.3 266.0,181.0 265.0,179.0 C264.0,177.0 262.8,175.0 263.0,173.0 C263.2,171.0 265.5,169.5 266.0,167.0 C266.5,164.5 265.3,159.7 265.9,157.8Z" fill="#FFD700"/>
<path d="M312.0,164.0 C313.0,162.8 317.7,162.5 320.0,163.0 C322.3,163.5 325.7,165.5 326.0,167.0 C326.3,168.5 324.0,171.5 322.0,172.0 C320.0,172.5 315.7,171.3 314.0,170.0 C312.3,168.7 311.0,165.2 312.0,164.0Z" fill="#FFD700"/>
<path d="M243.0,152.0 C243.8,151.3 245.7,151.8 247.0,152.0 C248.3,152.2 250.0,152.2 251.0,153.0 C252.0,153.8 253.0,155.7 253.0,157.0 C253.0,158.3 252.0,160.2 251.0,161.0 C250.0,161.8 248.3,162.2 247.0,162.0 C245.7,161.8 243.8,161.0 243.0,160.0 C242.2,159.0 242.0,157.3 242.0,156.0 C242.0,154.7 242.2,152.7 243.0,152.0Z" fill="#FFD700"/>
<path d="M312.0,139.0 C313.0,137.2 316.3,139.0 318.0,140.0 C319.7,141.0 321.0,143.2 322.0,145.0 C323.0,146.8 324.3,149.3 324.0,151.0 C323.7,152.7 321.3,154.7 320.0,155.0 C318.7,155.3 317.3,153.7 316.0,153.0 C314.7,152.3 312.7,153.3 312.0,151.0 C311.3,148.7 311.0,140.8 312.0,139.0Z" fill="#FFD700"/>
<path d="M255.0,134.0 C255.3,133.3 257.3,132.5 258.0,133.0 C258.7,133.5 259.3,136.3 259.0,137.0 C258.7,137.7 256.7,137.5 256.0,137.0 C255.3,136.5 254.7,134.7 255.0,134.0Z" fill="#FFD700"/>
<path d="M285.0,139.0 C285.3,138.2 288.0,136.8 289.0,137.0 C290.0,137.2 291.3,139.2 291.0,140.0 C290.7,140.8 288.0,142.2 287.0,142.0 C286.0,141.8 284.7,139.8 285.0,139.0Z" fill="#FFD700"/>
<path d="M305.0,166.0 C306.5,164.3 309.9,164.8 312.0,164.8 C314.1,164.8 315.2,165.4 317.4,166.1 C319.6,166.8 322.8,167.9 325.2,168.7 C327.6,169.5 329.1,170.3 332.0,171.0 C334.9,171.7 340.1,171.6 342.9,172.7 C345.7,173.8 346.7,176.1 348.9,177.5 C351.1,178.9 353.0,179.6 356.0,181.0 C359.0,182.4 363.6,184.6 366.8,185.8 C370.0,187.0 371.7,187.2 375.1,188.2 C378.5,189.2 383.6,190.7 387.1,191.8 C390.6,192.9 394.5,194.0 396.0,195.0 C397.5,196.0 407.0,197.5 396.0,198.0 C385.0,198.5 343.2,198.5 330.0,198.0 C316.8,197.5 320.5,196.0 317.0,195.0 C313.5,194.0 311.2,193.7 309.0,192.0 C306.8,190.3 305.0,187.8 304.0,185.0 C303.0,182.2 302.8,178.2 303.0,175.0 C303.2,171.8 303.5,167.7 305.0,166.0Z" fill="url(#stipY)"/>
<use href="#coast" transform="translate(229.1,43.8)"/>
<path d="M269.0,103.0 C269.0,101.0 271.3,98.3 273.0,97.0 C274.7,95.7 277.0,95.7 279.0,95.0 C281.0,94.3 283.7,94.2 285.0,93.0 C286.3,91.8 285.7,89.2 287.0,88.0 C288.3,86.8 291.3,85.8 293.0,86.0 C294.7,86.2 296.2,87.5 297.0,89.0 C297.8,90.5 297.3,93.5 298.0,95.0 C298.7,96.5 300.8,97.0 301.0,98.0 C301.2,99.0 300.3,100.2 299.0,101.0 C297.7,101.8 294.7,102.0 293.0,103.0 C291.3,104.0 290.3,105.7 289.0,107.0 C287.7,108.3 286.7,110.2 285.0,111.0 C283.3,111.8 281.0,112.3 279.0,112.0 C277.0,111.7 274.7,110.5 273.0,109.0 C271.3,107.5 269.0,105.0 269.0,103.0Z" fill="none" stroke="#000" stroke-width="1.2" stroke-linejoin="round"/>
<path d="M275.0,104.0 C275.2,102.8 277.5,102.0 279.0,102.0 C280.5,102.0 283.3,103.0 284.0,104.0 C284.7,105.0 284.0,107.2 283.0,108.0 C282.0,108.8 279.3,109.7 278.0,109.0 C276.7,108.3 274.8,105.2 275.0,104.0Z" fill="none" stroke="#000" stroke-width="1.2" stroke-linejoin="round"/>
<path d="M276.0,106.0 C276.3,105.6 279.2,104.8 280.0,105.0 C280.8,105.2 281.3,106.6 281.0,107.0 C280.7,107.4 278.8,107.7 278.0,107.5 C277.2,107.3 275.7,106.4 276.0,106.0Z" fill="none" stroke="#000" stroke-width="1.2" stroke-linejoin="round"/>
<path d="M287.0,94.0 C287.3,92.7 290.7,90.3 292.0,90.0 C293.3,89.7 294.7,91.0 295.0,92.0 C295.3,93.0 294.8,95.0 294.0,96.0 C293.2,97.0 291.2,98.3 290.0,98.0 C288.8,97.7 286.7,95.3 287.0,94.0Z" fill="none" stroke="#000" stroke-width="1.2" stroke-linejoin="round"/>
<path d="M274.0,109.0 C274.5,108.8 277.3,110.8 279.0,111.0 C280.7,111.2 283.5,109.7 284.0,110.0 C284.5,110.3 283.3,112.7 282.0,113.0 C280.7,113.3 277.3,112.7 276.0,112.0 C274.7,111.3 273.5,109.2 274.0,109.0Z" fill="none" stroke="#000" stroke-width="1.2" stroke-linejoin="round"/>
<path d="M231.0,96.0 C231.2,94.5 234.0,94.2 236.0,94.0 C238.0,93.8 241.0,94.2 243.0,95.0 C245.0,95.8 247.0,97.5 248.0,99.0 C249.0,100.5 249.3,102.7 249.0,104.0 C248.7,105.3 247.5,106.7 246.0,107.0 C244.5,107.3 241.8,106.7 240.0,106.0 C238.2,105.3 236.5,104.7 235.0,103.0 C233.5,101.3 230.8,97.5 231.0,96.0Z" fill="none" stroke="#000" stroke-width="1.2" stroke-linejoin="round"/>
<path d="M234.0,99.0 C234.2,98.2 236.5,97.8 238.0,98.0 C239.5,98.2 242.3,99.0 243.0,100.0 C243.7,101.0 243.0,103.5 242.0,104.0 C241.0,104.5 238.3,103.8 237.0,103.0 C235.7,102.2 233.8,99.8 234.0,99.0Z" fill="none" stroke="#000" stroke-width="1.2" stroke-linejoin="round"/>
<path d="M229.0,103.0 C229.7,102.7 231.8,100.8 233.0,101.0 C234.2,101.2 236.0,103.0 236.0,104.0 C236.0,105.0 234.2,106.3 233.0,107.0 C231.8,107.7 229.7,107.8 229.0,108.0" fill="none" stroke="#000" stroke-width="1.2" stroke-linejoin="round"/>
<path d="M318.6,107.9 C319.1,106.6 321.2,103.5 322.6,102.0 C324.0,100.5 324.9,99.5 326.7,98.6 C328.5,97.7 331.8,97.4 333.7,96.8 C335.6,96.2 337.2,95.4 338.3,95.1 C339.4,94.8 339.0,94.7 340.0,95.1 C341.0,95.5 343.0,96.2 344.1,97.4 C345.2,98.7 345.2,101.1 346.4,102.6 C347.6,104.0 349.2,105.4 351.1,106.1 C353.0,106.8 356.6,106.1 358.0,106.5 C359.4,106.9 360.0,107.7 359.8,108.4 C359.6,109.1 358.3,110.2 356.9,110.8 C355.4,111.4 352.9,111.5 351.1,111.9 C349.4,112.3 348.3,112.6 346.4,113.1 C344.5,113.6 341.6,114.3 339.5,114.8 C337.4,115.3 335.6,115.9 333.7,116.0 C331.8,116.1 329.6,116.0 327.9,115.4 C326.1,114.8 324.6,113.5 323.2,112.5 C321.8,111.5 320.5,110.4 319.7,109.6 C318.9,108.8 318.1,109.2 318.6,107.9Z" fill="none" stroke="#000" stroke-width="1.2" stroke-linejoin="round"/>
<path d="M317.4,94.5 C317.6,93.8 319.3,93.3 320.0,93.5 C320.7,93.7 321.7,94.8 321.5,95.5 C321.3,96.2 319.7,97.6 319.0,97.4 C318.3,97.2 317.2,95.2 317.4,94.5Z" fill="none" stroke="#000" stroke-width="1.2" stroke-linejoin="round"/>
<path d="M352.5,94.5 C353.0,93.4 354.8,92.0 356.0,91.8 C357.2,91.6 358.7,92.5 360.0,93.5 C361.3,94.5 362.5,96.1 364.0,97.5 C365.5,98.9 368.5,100.8 369.0,102.0 C369.5,103.2 368.3,104.6 367.0,105.0 C365.7,105.4 362.8,105.0 361.0,104.5 C359.2,104.0 357.3,103.0 356.0,102.0 C354.7,101.0 353.6,99.8 353.0,98.5 C352.4,97.2 352.0,95.6 352.5,94.5Z" fill="none" stroke="#000" stroke-width="1.2" stroke-linejoin="round"/>
<path d="M229.0,113.0 C230.8,113.0 236.5,113.2 240.0,113.0 C243.5,112.8 247.2,111.8 250.0,112.0 C252.8,112.2 254.3,113.0 257.0,114.0 C259.7,115.0 262.2,116.7 266.0,118.0 C269.8,119.3 275.0,121.5 280.0,122.0 C285.0,122.5 290.7,121.7 296.0,121.0 C301.3,120.3 307.3,118.7 312.0,118.0 C316.7,117.3 320.0,116.9 324.0,117.0 C328.0,117.1 331.3,118.2 336.0,118.6 C340.7,119.0 346.7,119.5 352.0,119.4 C357.3,119.3 363.3,118.1 368.0,118.0 C372.7,117.9 376.7,118.8 380.0,118.6 C383.3,118.4 386.0,117.8 388.0,117.0 C390.0,116.2 391.3,114.5 392.0,114.0" fill="none" stroke="#000" stroke-width="0.95" stroke-dasharray="2,1.3" stroke-linejoin="round"/>
<path d="M252.0,101.0 C252.7,102.0 254.3,105.3 256.0,107.0 C257.7,108.7 259.7,109.8 262.0,111.0 C264.3,112.2 267.0,113.2 270.0,114.0 C273.0,114.8 276.7,115.6 280.0,116.0 C283.3,116.4 288.3,116.4 290.0,116.5" fill="none" stroke="#000" stroke-width="0.95" stroke-dasharray="2,1.3" stroke-linejoin="round"/>
<path d="M236.0,113.0 C237.0,113.3 240.0,114.2 242.0,115.0 C244.0,115.8 246.7,116.5 248.0,118.0 C249.3,119.5 250.3,122.3 250.0,124.0 C249.7,125.7 247.7,126.7 246.0,128.0 C244.3,129.3 241.5,130.0 240.0,132.0 C238.5,134.0 237.0,137.7 237.0,140.0 C237.0,142.3 239.5,145.0 240.0,146.0" fill="none" stroke="#000" stroke-width="0.95" stroke-dasharray="2,1.3" stroke-linejoin="round"/>
<path d="M258.0,112.0 C259.0,112.7 262.3,114.5 264.0,116.0 C265.7,117.5 266.0,119.7 268.0,121.0 C270.0,122.3 273.3,122.8 276.0,124.0 C278.7,125.2 281.7,126.3 284.0,128.0 C286.3,129.7 288.3,131.7 290.0,134.0 C291.7,136.3 293.3,140.7 294.0,142.0" fill="none" stroke="#000" stroke-width="0.95" stroke-dasharray="2,1.3" stroke-linejoin="round"/>
<path d="M300.0,118.0 C301.7,118.5 307.0,120.2 310.0,121.0 C313.0,121.8 315.3,122.3 318.0,123.0 C320.7,123.7 323.3,124.5 326.0,125.0 C328.7,125.5 332.7,125.8 334.0,126.0" fill="none" stroke="#000" stroke-width="0.95" stroke-dasharray="2,1.3" stroke-linejoin="round"/>
<path d="M340.0,120.7 C341.7,120.5 346.9,119.6 350.4,119.3 C353.9,119.0 357.6,118.9 360.9,118.7 C364.2,118.5 367.0,118.0 370.0,118.0 C373.0,118.0 376.5,118.9 379.1,118.7 C381.7,118.5 383.4,117.5 385.6,116.7 C387.8,115.9 390.5,114.6 392.2,114.1 C393.9,113.6 395.4,113.6 396.0,113.5" fill="none" stroke="#000" stroke-width="0.95" stroke-dasharray="2,1.3" stroke-linejoin="round"/>
<path d="M324.0,120.0 C325.3,120.2 329.3,120.9 332.0,121.0 C334.7,121.1 338.7,120.8 340.0,120.7" fill="none" stroke="#000" stroke-width="0.95" stroke-dasharray="2,1.3" stroke-linejoin="round"/>
<path d="M340.0,124.6 C343.3,124.5 345.0,124.4 347.8,124.6 C350.6,124.8 354.0,125.2 357.0,125.9 C360.0,126.6 364.3,127.2 366.0,128.5 C367.7,129.8 368.2,132.4 367.4,133.7 C366.5,135.0 363.3,135.7 360.9,136.3 C358.5,137.0 355.8,137.4 353.0,137.6 C350.2,137.8 346.7,137.8 343.9,137.6 C341.1,137.4 338.6,137.1 336.0,136.3 C333.4,135.5 330.3,134.4 328.0,133.0 C325.7,131.6 322.0,129.3 322.0,128.0 C322.0,126.7 325.0,125.6 328.0,125.0 C331.0,124.4 336.7,124.7 340.0,124.6Z" fill="none" stroke="#000" stroke-width="0.95" stroke-dasharray="2,1.3" stroke-linejoin="round"/>
<path d="M336.0,128.5 C337.8,127.8 343.9,129.4 346.5,129.8 C349.1,130.2 351.1,130.1 351.7,131.0 C352.3,131.9 351.7,134.2 350.4,135.0 C349.1,135.8 346.3,135.8 343.9,135.6 C341.5,135.4 337.3,135.2 336.0,134.0 C334.7,132.8 334.2,129.2 336.0,128.5Z" fill="none" stroke="#000" stroke-width="0.95" stroke-dasharray="2,1.3" stroke-linejoin="round"/>
<path d="M318.0,126.0 C319.3,126.8 323.0,128.5 326.0,131.0 C329.0,133.5 332.7,139.2 336.0,141.0 C339.3,142.8 342.7,142.0 346.0,142.0 C349.3,142.0 352.7,141.3 356.0,141.0 C359.3,140.7 363.3,140.7 366.0,140.0 C368.7,139.3 371.0,137.5 372.0,137.0" fill="none" stroke="#000" stroke-width="0.95" stroke-dasharray="2,1.3" stroke-linejoin="round"/>
<path d="M364.8,149.3 C366.1,148.0 369.8,147.1 372.6,146.7 C375.4,146.3 379.3,146.3 381.7,146.7 C384.1,147.1 385.7,148.2 387.0,149.3 C388.3,150.4 389.6,152.0 389.6,153.3 C389.6,154.6 388.8,156.3 387.0,157.2 C385.2,158.1 381.9,158.3 379.1,158.5 C376.3,158.7 372.4,159.2 370.0,158.5 C367.6,157.8 365.7,156.1 364.8,154.6 C363.9,153.1 363.5,150.6 364.8,149.3Z" fill="none" stroke="#000" stroke-width="0.95" stroke-dasharray="2,1.3" stroke-linejoin="round"/>
<path d="M367.4,153.3 C367.8,152.4 371.6,151.5 374.0,151.3 C376.4,151.1 380.0,151.4 381.7,152.0 C383.4,152.6 384.7,153.8 384.3,154.6 C383.9,155.3 381.3,156.2 379.1,156.5 C376.9,156.8 373.2,157.0 371.3,156.5 C369.4,156.0 366.9,154.2 367.4,153.3Z" fill="none" stroke="#000" stroke-width="0.95" stroke-dasharray="2,1.3" stroke-linejoin="round"/>
<path d="M359.6,144.0 C361.6,143.6 367.2,141.7 371.3,141.5 C375.4,141.3 380.8,142.1 384.3,142.8 C387.8,143.5 390.2,144.6 392.2,145.5 C394.1,146.4 395.4,147.6 396.0,148.0" fill="none" stroke="#000" stroke-width="0.95" stroke-dasharray="2,1.3" stroke-linejoin="round"/>
<path d="M357.0,162.4 C359.6,162.5 367.8,163.0 372.6,163.0 C377.4,163.0 381.7,162.7 385.6,162.4 C389.5,162.1 394.3,161.2 396.0,161.0" fill="none" stroke="#000" stroke-width="0.95" stroke-dasharray="2,1.3" stroke-linejoin="round"/>
<path d="M335.0,148.0 C335.9,148.2 338.8,148.5 340.2,148.9 C341.6,149.3 343.3,149.8 343.7,150.7 C344.1,151.6 342.6,152.9 342.8,154.1 C343.0,155.2 343.7,156.7 344.6,157.6 C345.5,158.5 346.9,158.6 348.0,159.3 C349.1,160.0 350.3,161.0 351.5,162.0 C352.7,163.0 353.7,164.4 355.0,165.4 C356.3,166.4 357.7,167.3 359.3,168.0 C360.9,168.7 362.9,169.2 364.6,169.8 C366.4,170.4 368.1,170.9 369.8,171.5 C371.5,172.1 372.5,172.6 375.0,173.3 C377.5,174.1 381.5,175.1 385.0,176.0 C388.5,176.9 394.2,178.5 396.0,179.0" fill="none" stroke="#000" stroke-width="0.95" stroke-dasharray="2,1.3" stroke-linejoin="round"/>
<path d="M349.8,161.1 C350.2,161.7 351.4,163.6 352.4,164.6 C353.4,165.6 354.4,166.3 355.9,167.2 C357.3,168.1 359.4,169.1 361.1,169.8 C362.8,170.5 364.6,170.9 366.3,171.5 C368.0,172.1 368.6,172.2 371.5,173.3 C374.4,174.4 379.9,176.7 384.0,178.0 C388.1,179.3 394.0,180.5 396.0,181.0" fill="none" stroke="#000" stroke-width="0.95" stroke-dasharray="2,1.3" stroke-linejoin="round"/>
<path d="M335.0,160.2 C335.9,160.3 338.8,160.4 340.2,161.1 C341.6,161.8 343.4,163.6 343.7,164.6 C344.0,165.6 343.2,166.9 342.0,167.2 C340.8,167.5 337.9,166.6 336.7,166.3 C335.5,166.0 335.3,165.6 335.0,165.4" fill="none" stroke="#000" stroke-width="1.2" stroke-linejoin="round"/>
<path d="M303.0,123.0 C303.8,123.7 306.5,125.5 308.0,127.0 C309.5,128.5 310.3,130.2 312.0,132.0 C313.7,133.8 317.0,137.0 318.0,138.0" fill="none" stroke="#000" stroke-width="0.95" stroke-dasharray="2,1.3" stroke-linejoin="round"/>
<path d="M318.0,131.0 C318.7,129.2 322.3,127.0 326.0,126.0 C329.7,125.0 335.0,124.9 340.0,125.0 C345.0,125.1 351.0,125.7 356.0,126.5 C361.0,127.3 367.3,128.6 370.0,130.0 C372.7,131.4 373.0,133.5 372.0,135.0 C371.0,136.5 367.7,138.1 364.0,139.0 C360.3,139.9 355.0,140.3 350.0,140.5 C345.0,140.7 338.7,140.6 334.0,140.0 C329.3,139.4 324.7,138.5 322.0,137.0 C319.3,135.5 317.3,132.8 318.0,131.0Z" fill="none" stroke="#000" stroke-width="0.95" stroke-dasharray="2,1.3" stroke-linejoin="round"/>
<path d="M312.0,133.0 C312.7,130.3 317.3,125.8 322.0,124.0 C326.7,122.2 334.0,122.6 340.0,122.5 C346.0,122.4 352.3,122.8 358.0,123.5 C363.7,124.2 370.7,125.2 374.0,127.0 C377.3,128.8 378.7,131.7 378.0,134.0 C377.3,136.3 374.3,139.5 370.0,141.0 C365.7,142.5 358.3,142.8 352.0,143.0 C345.7,143.2 337.7,143.0 332.0,142.5 C326.3,142.0 321.3,141.6 318.0,140.0 C314.7,138.4 311.3,135.7 312.0,133.0Z" fill="none" stroke="#000" stroke-width="0.95" stroke-dasharray="2,1.3" stroke-linejoin="round"/>
<path d="M360.0,150.0 C362.0,149.0 367.7,145.0 372.0,144.0 C376.3,143.0 382.3,143.3 386.0,144.0 C389.7,144.7 392.3,146.7 394.0,148.0 C395.7,149.3 395.7,151.3 396.0,152.0" fill="none" stroke="#000" stroke-width="0.95" stroke-dasharray="2,1.3" stroke-linejoin="round"/>
<path d="M362.0,158.0 C363.0,158.5 365.0,160.4 368.0,161.0 C371.0,161.6 376.0,161.7 380.0,161.5 C384.0,161.3 389.3,160.6 392.0,160.0 C394.7,159.4 395.3,158.3 396.0,158.0" fill="none" stroke="#000" stroke-width="0.95" stroke-dasharray="2,1.3" stroke-linejoin="round"/>
<path d="M372.0,153.5 C372.0,153.0 376.3,152.4 378.0,152.5 C379.7,152.6 382.0,153.5 382.0,154.0 C382.0,154.5 379.7,155.6 378.0,155.5 C376.3,155.4 372.0,154.0 372.0,153.5Z" fill="none" stroke="#000" stroke-width="0.95" stroke-dasharray="2,1.3" stroke-linejoin="round"/>
<path d="M290.0,121.0 C291.7,121.5 296.7,123.0 300.0,124.0 C303.3,125.0 306.3,125.8 310.0,127.0 C313.7,128.2 318.0,130.0 322.0,131.0 C326.0,132.0 332.0,132.7 334.0,133.0" fill="none" stroke="#000" stroke-width="0.95" stroke-dasharray="2,1.3" stroke-linejoin="round"/>
<path d="M266.0,158.8 C266.8,158.4 269.0,156.9 270.8,156.4 C272.6,155.9 274.6,155.8 276.7,155.9 C278.8,156.0 281.7,156.2 283.5,156.8 C285.3,157.5 286.6,158.8 287.4,159.8 C288.2,160.8 287.6,162.2 288.4,162.7 C289.2,163.2 290.7,163.3 292.0,163.0 C293.3,162.7 295.0,161.8 296.0,161.0 C297.0,160.2 297.7,158.9 298.0,158.5" fill="none" stroke="#000" stroke-width="1.2" stroke-linejoin="round"/>
<path d="M269.8,159.8 C270.6,159.6 272.7,158.5 274.7,158.3 C276.7,158.1 279.6,158.4 281.6,158.8 C283.6,159.2 285.5,160.0 286.5,160.8 C287.5,161.6 287.2,163.2 287.4,163.7" fill="none" stroke="#000" stroke-width="1.2" stroke-linejoin="round"/>
<path d="M270.8,162.7 C271.6,162.5 274.1,161.3 275.7,161.3 C277.3,161.3 279.6,161.8 280.6,162.7 C281.6,163.6 281.8,165.4 281.6,166.6 C281.4,167.8 280.1,168.3 279.6,169.6 C279.1,170.9 278.3,173.2 278.6,174.5 C278.9,175.8 280.1,176.8 281.6,177.4 C283.1,178.1 285.8,178.6 287.4,178.4 C289.0,178.2 290.4,177.4 291.4,176.4 C292.4,175.4 292.4,173.6 293.3,172.5 C294.2,171.4 295.9,171.1 297.0,170.0 C298.1,168.9 299.5,166.7 300.0,166.0" fill="none" stroke="#000" stroke-width="1.2" stroke-linejoin="round"/>
<path d="M271.8,167.6 C272.3,166.8 273.9,165.4 274.7,165.7 C275.5,166.0 276.9,168.5 276.7,169.6 C276.5,170.7 274.5,172.3 273.7,172.5 C272.9,172.7 272.1,171.3 271.8,170.5 C271.5,169.7 271.3,168.4 271.8,167.6Z" fill="none" stroke="#000" stroke-width="1.2" stroke-linejoin="round"/>
<path d="M284.5,165.7 C285.0,164.9 287.8,164.5 289.4,164.7 C291.0,164.8 293.6,165.6 294.3,166.6 C295.0,167.6 294.1,169.7 293.3,170.5 C292.5,171.3 290.5,171.7 289.4,171.5 C288.3,171.3 287.3,170.6 286.5,169.6 C285.7,168.6 284.0,166.5 284.5,165.7Z" fill="none" stroke="#000" stroke-width="1.2" stroke-linejoin="round"/>
<path d="M267.9,179.4 C268.9,179.7 271.4,180.8 273.7,181.3 C276.0,181.8 278.7,182.0 281.6,182.3 C284.6,182.6 288.1,183.0 291.4,183.3 C294.6,183.6 297.7,184.2 301.1,184.2 C304.5,184.2 308.5,183.3 312.0,183.3 C315.5,183.3 318.3,183.7 322.0,184.0 C325.7,184.3 330.0,184.5 334.0,185.0 C338.0,185.5 341.3,186.3 346.0,187.0 C350.7,187.7 356.3,188.7 362.0,189.0 C367.7,189.3 374.3,188.8 380.0,189.0 C385.7,189.2 393.3,189.8 396.0,190.0" fill="none" stroke="#000" stroke-width="1.2" stroke-linejoin="round"/>
<path d="M269.8,183.3 C271.8,183.6 278.0,184.7 281.6,185.2 C285.2,185.7 288.1,185.9 291.4,186.2 C294.6,186.5 297.7,187.0 301.1,187.2 C304.5,187.4 308.2,187.1 312.0,187.2 C315.8,187.3 319.3,187.5 324.0,188.0 C328.7,188.5 334.0,189.3 340.0,190.0 C346.0,190.7 353.3,191.5 360.0,192.0 C366.7,192.5 374.0,192.7 380.0,193.0 C386.0,193.3 393.3,193.8 396.0,194.0" fill="none" stroke="#000" stroke-width="1.2" stroke-linejoin="round"/>
<path d="M266.9,175.5 C267.1,174.7 268.1,172.4 268.2,170.6 C268.3,168.8 267.4,166.2 267.5,164.5 C267.6,162.8 268.8,161.2 269.0,160.5" fill="none" stroke="#000" stroke-width="1.2" stroke-linejoin="round"/>
<path d="M299.2,176.4 C299.4,175.6 302.1,175.1 303.1,175.4 C304.1,175.7 305.3,177.6 305.1,178.4 C304.9,179.2 303.1,180.6 302.1,180.3 C301.1,180.0 299.0,177.2 299.2,176.4Z" fill="none" stroke="#000" stroke-width="1.2" stroke-linejoin="round"/>
<path d="M305.1,181.3 C305.4,180.7 308.0,180.0 309.0,180.3 C310.0,180.6 311.3,182.7 311.0,183.3 C310.7,184.0 308.0,184.5 307.0,184.2 C306.0,183.9 304.8,182.0 305.1,181.3Z" fill="none" stroke="#000" stroke-width="1.2" stroke-linejoin="round"/>
<path d="M283.0,172.0 C283.2,171.2 285.2,170.7 286.0,171.0 C286.8,171.3 288.2,173.2 288.0,174.0 C287.8,174.8 285.8,175.8 285.0,175.5 C284.2,175.2 282.8,172.8 283.0,172.0Z" fill="none" stroke="#000" stroke-width="1.2" stroke-linejoin="round"/>
<path d="M302.0,168.0 C302.7,167.7 304.3,166.0 306.0,166.0 C307.7,166.0 310.0,167.2 312.0,168.0 C314.0,168.8 315.7,170.2 318.0,171.0 C320.3,171.8 322.3,172.2 326.0,173.0 C329.7,173.8 335.0,174.8 340.0,176.0 C345.0,177.2 350.7,178.8 356.0,180.0 C361.3,181.2 365.3,182.2 372.0,183.0 C378.7,183.8 392.0,184.7 396.0,185.0" fill="none" stroke="#000" stroke-width="1.2" stroke-linejoin="round"/>
<path d="M306.0,172.0 C307.3,172.0 311.3,171.5 314.0,172.0 C316.7,172.5 318.7,174.0 322.0,175.0 C325.3,176.0 329.3,176.8 334.0,178.0 C338.7,179.2 344.3,180.7 350.0,182.0 C355.7,183.3 360.3,185.0 368.0,186.0 C375.7,187.0 391.3,187.7 396.0,188.0" fill="none" stroke="#000" stroke-width="1.2" stroke-linejoin="round"/>
<path d="M229.0,170.0 C230.8,170.2 236.2,170.2 240.0,171.0 C243.8,171.8 248.7,173.3 252.0,175.0 C255.3,176.7 258.0,178.8 260.0,181.0 C262.0,183.2 262.3,185.8 264.0,188.0 C265.7,190.2 267.3,192.5 270.0,194.0 C272.7,195.5 278.3,196.5 280.0,197.0" fill="none" stroke="#000" stroke-width="1.2" stroke-linejoin="round"/>
<path d="M229.0,181.0 C229.7,181.2 232.0,181.0 233.0,182.0 C234.0,183.0 235.7,185.7 235.0,187.0 C234.3,188.3 230.0,189.5 229.0,190.0" fill="none" stroke="#000" stroke-width="1.2" stroke-linejoin="round"/>
<path d="M229.0,194.0 C230.8,193.7 236.2,192.0 240.0,192.0 C243.8,192.0 248.3,193.3 252.0,194.0 C255.7,194.7 258.2,195.3 262.0,196.0 C265.8,196.7 272.8,197.7 275.0,198.0" fill="none" stroke="#000" stroke-width="1.2" stroke-linejoin="round"/>
<path d="M330.0,178.0 C333.3,177.8 343.3,177.0 350.0,177.0 C356.7,177.0 362.3,177.5 370.0,178.0 C377.7,178.5 391.7,179.7 396.0,180.0" fill="none" stroke="#000" stroke-width="1.1" stroke-linejoin="round"/>
<path d="M330.0,180.5 C333.3,180.3 343.3,179.5 350.0,179.5 C356.7,179.5 362.3,179.9 370.0,180.5 C377.7,181.1 391.7,182.8 396.0,183.2" fill="none" stroke="#000" stroke-width="1.1" stroke-linejoin="round"/>
<path d="M330.0,183.0 C333.3,182.8 343.3,182.0 350.0,182.0 C356.7,182.0 362.3,182.3 370.0,183.0 C377.7,183.7 391.7,185.8 396.0,186.4" fill="none" stroke="#000" stroke-width="1.1" stroke-linejoin="round"/>
<path d="M330.0,185.5 C333.3,185.3 343.3,184.5 350.0,184.5 C356.7,184.5 362.3,184.7 370.0,185.5 C377.7,186.3 391.7,188.9 396.0,189.6" fill="none" stroke="#000" stroke-width="1.1" stroke-linejoin="round"/>
<path d="M330.0,188.0 C333.3,187.8 343.3,187.0 350.0,187.0 C356.7,187.0 362.3,187.0 370.0,188.0 C377.7,189.0 391.7,192.0 396.0,192.8" fill="none" stroke="#000" stroke-width="1.1" stroke-linejoin="round"/>
<path d="M335.0,172.0 C337.5,172.3 344.8,173.3 350.0,174.0 C355.2,174.7 361.0,175.0 366.0,176.0 C371.0,177.0 377.7,179.3 380.0,180.0" fill="none" stroke="#000" stroke-width="1.2" stroke-linejoin="round"/>
<path d="M300.0,150.0 C300.7,148.0 303.7,145.8 306.0,145.0 C308.3,144.2 312.3,143.8 314.0,145.0 C315.7,146.2 316.7,149.8 316.0,152.0 C315.3,154.2 312.3,157.2 310.0,158.0 C307.7,158.8 303.7,158.3 302.0,157.0 C300.3,155.7 299.3,152.0 300.0,150.0Z" fill="none" stroke="#000" stroke-width="1.2" stroke-linejoin="round"/>
<path d="M318.0,146.0 C319.0,145.3 321.7,148.3 322.0,150.0 C322.3,151.7 321.0,155.3 320.0,156.0 C319.0,156.7 316.3,155.7 316.0,154.0 C315.7,152.3 317.0,146.7 318.0,146.0Z" fill="none" stroke="#000" stroke-width="1.2" stroke-linejoin="round"/>
<path d="M336.0,86.5 C337.0,86.3 340.0,85.6 342.0,85.5 C344.0,85.4 345.7,86.3 348.0,86.0 C350.3,85.7 353.3,84.2 356.0,83.5 C358.7,82.8 362.7,81.8 364.0,81.5" fill="none" stroke="#000" stroke-width="1.2" stroke-linejoin="round"/>
<path d="M340.0,88.5 C341.0,88.4 344.0,87.9 346.0,88.0 C348.0,88.1 350.0,89.0 352.0,89.0 C354.0,89.0 356.0,88.5 358.0,88.0 C360.0,87.5 363.0,86.3 364.0,86.0" fill="none" stroke="#000" stroke-width="1.2" stroke-linejoin="round"/>
<path d="M350.0,91.0 C351.0,90.9 354.0,90.8 356.0,90.5 C358.0,90.2 360.3,89.9 362.0,89.5 C363.7,89.1 365.3,88.2 366.0,88.0" fill="none" stroke="#000" stroke-width="1.2" stroke-linejoin="round"/>
<path d="M331.0,87.5 C331.7,87.2 333.7,88.2 334.0,89.0 C334.3,89.8 333.7,91.7 333.0,92.0 C332.3,92.3 330.3,91.8 330.0,91.0 C329.7,90.2 330.3,87.8 331.0,87.5Z" fill="none" stroke="#000" stroke-width="1.2" stroke-linejoin="round"/>
<path d="M353.4,95.1 C353.6,93.9 355.1,92.7 356.0,92.5 C356.9,92.3 358.0,92.9 359.0,94.0 C360.0,95.1 360.8,97.6 362.0,99.0 C363.2,100.4 365.7,101.6 366.0,102.5 C366.3,103.4 365.2,104.5 364.0,104.5 C362.8,104.5 360.5,103.3 359.0,102.5 C357.5,101.7 355.9,100.7 355.0,99.5 C354.1,98.3 353.2,96.3 353.4,95.1Z" fill="none" stroke="#000" stroke-width="1.2" stroke-linejoin="round"/>
</g>
<path d="M229.10,43.80v-5.9 M229.10,197.20v5.9 M254.64,43.80v-2.8 M254.64,197.20v2.8 M280.18,43.80v-2.8 M280.18,197.20v2.8 M305.72,43.80v-5.9 M305.72,197.20v5.9 M331.25,43.80v-2.8 M331.25,197.20v2.8 M356.79,43.80v-2.8 M356.79,197.20v2.8 M382.33,43.80v-5.9 M382.33,197.20v5.9 M229.10,197.20h-2.6 M395.10,197.20h2.6 M229.10,184.42h-2.6 M395.10,184.42h2.6 M229.10,171.63h-5.6 M395.10,171.63h5.6 M229.10,158.85h-2.6 M395.10,158.85h2.6 M229.10,146.07h-2.6 M395.10,146.07h2.6 M229.10,133.28h-2.6 M395.10,133.28h2.6 M229.10,120.50h-5.6 M395.10,120.50h5.6 M229.10,107.72h-2.6 M395.10,107.72h2.6 M229.10,94.93h-2.6 M395.10,94.93h2.6 M229.10,82.15h-2.6 M395.10,82.15h2.6 M229.10,69.37h-5.6 M395.10,69.37h5.6 M229.10,56.58h-2.6 M395.10,56.58h2.6 M229.10,43.80h-2.6 M395.10,43.80h2.6" stroke="#000" stroke-width="1.1" fill="none"/>
<rect x="229.1" y="43.8" width="166.0" height="153.4" fill="none" stroke="#000" stroke-width="1.3"/>
<text x="220.80" y="216.60" font-size="10.2" textLength="16.6" lengthAdjust="spacingAndGlyphs">90E</text>
<text x="295.42" y="216.60" font-size="10.2" textLength="20.6" lengthAdjust="spacingAndGlyphs">120E</text>
<text x="372.03" y="216.60" font-size="10.2" textLength="20.6" lengthAdjust="spacingAndGlyphs">150E</text>
<text x="212.60" y="176.13" font-size="10.2" textLength="5.6" lengthAdjust="spacingAndGlyphs">0</text>
<text x="201.20" y="125.00" font-size="10.2" textLength="17.0" lengthAdjust="spacingAndGlyphs">20N</text>
<text x="201.20" y="73.87" font-size="10.2" textLength="17.0" lengthAdjust="spacingAndGlyphs">40N</text>
<text x="228.50" y="33.90" font-size="11.0" textLength="58.4" lengthAdjust="spacingAndGlyphs">(b)GloSea5</text>
<text x="366.10" y="33.80" font-size="9.9" textLength="30.2" lengthAdjust="spacingAndGlyphs">Precip.</text>
<g clip-path="url(#c02)">
<path d="M431,43 L457,43 L455,47 L449,51 L443,55 L437,57 L435,63 L431,65Z" fill="#FFD700"/>
<path d="M433.0,73.0 C433.7,72.3 437.0,71.7 438.0,72.0 C439.0,72.3 439.7,74.3 439.0,75.0 C438.3,75.7 435.0,76.3 434.0,76.0 C433.0,75.7 432.3,73.7 433.0,73.0Z" fill="#FFD700"/>
<path d="M441.0,89.0 C441.7,86.7 443.3,84.5 445.0,83.0 C446.7,81.5 449.0,80.0 451.0,80.0 C453.0,80.0 454.7,82.0 457.0,83.0 C459.3,84.0 462.7,86.0 465.0,86.0 C467.3,86.0 469.0,84.0 471.0,83.0 C473.0,82.0 474.3,80.5 477.0,80.0 C479.7,79.5 483.7,79.8 487.0,80.0 C490.3,80.2 493.7,81.0 497.0,81.0 C500.3,81.0 504.0,80.5 507.0,80.0 C510.0,79.5 512.7,78.6 515.0,78.0 C517.3,77.4 519.0,76.8 521.0,76.5 C523.0,76.2 525.3,75.6 527.0,76.0 C528.7,76.4 530.5,77.8 531.0,79.0 C531.5,80.2 531.3,82.0 530.0,83.0 C528.7,84.0 524.8,84.0 523.0,85.0 C521.2,86.0 519.7,87.3 519.0,89.0 C518.3,90.7 519.7,93.7 519.0,95.0 C518.3,96.3 516.3,96.3 515.0,97.0 C513.7,97.7 513.0,98.0 511.0,99.0 C509.0,100.0 505.7,101.7 503.0,103.0 C500.3,104.3 498.0,106.0 495.0,107.0 C492.0,108.0 488.0,109.0 485.0,109.0 C482.0,109.0 479.7,108.0 477.0,107.0 C474.3,106.0 472.0,104.0 469.0,103.0 C466.0,102.0 461.7,101.3 459.0,101.0 C456.3,100.7 455.0,100.3 453.0,101.0 C451.0,101.7 449.3,103.7 447.0,105.0 C444.7,106.3 441.7,108.2 439.0,109.0 C436.3,109.8 432.3,111.0 431.0,110.0 C429.7,109.0 430.0,104.5 431.0,103.0 C432.0,101.5 435.3,102.0 437.0,101.0 C438.7,100.0 440.3,99.0 441.0,97.0 C441.7,95.0 440.3,91.3 441.0,89.0Z" fill="#FFD700"/>
<path d="M532,59 L536,56 L543,57.4 L551,55.4 L560,52.6 L563,54.6 L562,62 L560,66 L564,68 L571,67 L581,66.6 L591,67.4 L598,68 L598,93 L592,94.6 L583,93.4 L573,95.4 L563,98.6 L553,102 L543,106 L536,109 L532.6,106 L533,99 L534,92 L539,89.4 L548,86.6 L556,83 L560,79 L559,75 L554,77 L547,80 L540,82.6 L535,83 L532,79 L537,76 L543,73 L547,69 L546,65 L541,63 L535,64Z" fill="#FFD700"/>
<path d="M584.0,74.6 C584.3,74.6 585.4,75.1 585.5,75.4 C585.6,75.7 584.9,76.4 584.6,76.4 C584.3,76.4 583.7,75.7 583.6,75.4 C583.5,75.1 583.7,74.6 584.0,74.6Z" fill="#fff"/>
<path d="M457.0,111.0 C457.0,109.2 459.0,108.3 461.0,108.0 C463.0,107.7 466.0,108.3 469.0,109.0 C472.0,109.7 476.3,111.2 479.0,112.0 C481.7,112.8 482.2,113.4 485.0,113.8 C487.8,114.2 492.3,114.1 495.9,114.3 C499.5,114.5 503.6,114.9 506.7,114.9 C509.8,114.9 511.9,114.0 514.3,114.3 C516.7,114.6 518.9,115.7 520.9,116.5 C522.9,117.3 523.9,118.6 526.3,119.2 C528.6,119.8 530.9,120.3 535.0,120.3 C539.1,120.3 545.0,119.7 551.0,119.0 C557.0,118.3 565.0,117.2 571.0,116.0 C577.0,114.8 582.5,113.0 587.0,112.0 C591.5,111.0 596.2,103.8 598.0,110.0 C599.8,116.2 602.5,142.5 598.0,149.0 C593.5,155.5 578.8,149.1 571.0,149.0 C563.2,148.9 557.0,148.8 551.0,148.6 C545.0,148.3 538.2,147.8 535.0,147.5 C531.8,147.2 533.2,147.3 531.7,147.0 C530.2,146.7 528.1,146.6 526.3,145.9 C524.5,145.2 522.3,143.7 520.9,142.6 C519.5,141.5 518.7,140.2 517.6,139.3 C516.5,138.4 515.4,137.4 514.3,137.2 C513.2,137.0 511.9,137.6 511.1,138.3 C510.3,139.0 510.1,140.2 509.5,141.5 C508.9,142.8 508.2,146.4 507.8,145.9 C507.4,145.4 507.5,140.7 507.3,138.3 C507.1,135.9 507.0,133.7 506.7,131.7 C506.4,129.7 507.1,127.4 505.7,126.3 C504.2,125.2 500.4,125.0 498.0,125.2 C495.6,125.4 493.7,127.0 491.5,127.4 C489.3,127.8 487.8,126.5 485.0,127.4 C482.2,128.3 477.7,132.4 475.0,133.0 C472.3,133.6 470.7,132.3 469.0,131.0 C467.3,129.7 466.3,127.0 465.0,125.0 C463.7,123.0 462.3,121.3 461.0,119.0 C459.7,116.7 457.0,112.8 457.0,111.0Z" fill="#00FFFF"/>
<path d="M481.5,61.0 C482.0,61.0 483.0,62.0 483.0,62.5 C483.0,63.0 482.0,64.0 481.5,64.0 C481.0,64.0 480.0,63.0 480.0,62.5 C480.0,62.0 481.0,61.0 481.5,61.0Z" fill="#00FFFF"/>
<path d="M431.0,143.0 C432.3,136.8 436.0,143.7 439.0,144.0 C442.0,144.3 446.3,145.0 449.0,145.0 C451.7,145.0 453.0,143.8 455.0,144.0 C457.0,144.2 459.7,144.8 461.0,146.0 C462.3,147.2 462.2,149.2 463.0,151.0 C463.8,152.8 465.0,155.7 466.0,157.0 C467.0,158.3 467.5,159.3 469.0,159.0 C470.5,158.7 473.0,156.3 475.0,155.0 C477.0,153.7 480.2,153.0 481.0,151.0 C481.8,149.0 479.7,145.0 480.0,143.0 C480.3,141.0 481.5,139.7 483.0,139.0 C484.5,138.3 487.7,137.9 489.0,138.6 C490.3,139.3 491.0,140.9 491.0,143.0 C491.0,145.1 489.0,148.3 489.0,151.0 C489.0,153.7 490.5,156.3 491.0,159.0 C491.5,161.7 492.3,164.7 492.0,167.0 C491.7,169.3 490.5,171.7 489.0,173.0 C487.5,174.3 485.3,174.7 483.0,175.0 C480.7,175.3 477.3,175.2 475.0,175.0 C472.7,174.8 470.7,174.3 469.0,174.0 C467.3,173.7 466.3,172.8 465.0,173.0 C463.7,173.2 462.7,174.0 461.0,175.0 C459.3,176.0 457.0,178.2 455.0,179.0 C453.0,179.8 451.3,180.0 449.0,180.0 C446.7,180.0 443.3,178.8 441.0,179.0 C438.7,179.2 436.7,180.7 435.0,181.0 C433.3,181.3 431.7,187.3 431.0,181.0 C430.3,174.7 429.7,149.2 431.0,143.0Z" fill="#FFD700"/>
<use href="#coast" transform="translate(431.5,43.8)"/>
<path d="M476.5,89 L483,86.5 L491,88 L493,93 L489,97.5 L482,97.5Z" fill="none" stroke="#000" stroke-width="1.2" stroke-linejoin="round"/>
<path d="M500.0,94.6 C500.0,94.3 501.3,93.9 502.0,94.0 C502.7,94.1 504.0,94.7 504.0,95.0 C504.0,95.3 502.7,96.1 502.0,96.0 C501.3,95.9 500.0,94.9 500.0,94.6Z" fill="none" stroke="#000" stroke-width="1.2" stroke-linejoin="round"/>
<path d="M431.0,107.0 C432.0,106.6 435.8,106.3 437.0,106.5 C438.2,106.7 439.0,107.6 438.0,108.0 C437.0,108.4 432.2,109.2 431.0,109.0 C429.8,108.8 430.0,107.4 431.0,107.0Z" fill="none" stroke="#000" stroke-width="1.2" stroke-linejoin="round"/>
<path d="M552.0,95.0 C553.0,94.0 555.8,90.2 558.0,89.0 C560.2,87.8 562.5,88.2 565.0,88.0 C567.5,87.8 572.0,87.7 573.0,88.0 C574.0,88.3 572.7,89.5 571.0,90.0 C569.3,90.5 565.5,90.3 563.0,91.0 C560.5,91.7 557.2,93.5 556.0,94.0" fill="none" stroke="#000" stroke-width="1.2" stroke-linejoin="round"/>
<path d="M435.0,159.0 C436.3,157.3 440.7,156.7 443.0,157.0 C445.3,157.3 447.7,159.0 449.0,161.0 C450.3,163.0 451.3,167.2 451.0,169.0 C450.7,170.8 449.0,171.7 447.0,172.0 C445.0,172.3 441.0,171.8 439.0,171.0 C437.0,170.2 435.7,169.0 435.0,167.0 C434.3,165.0 433.7,160.7 435.0,159.0Z" fill="none" stroke="#000" stroke-width="1.2" stroke-linejoin="round"/>
<path d="M431.0,146.0 C432.3,145.8 436.0,144.8 439.0,145.0 C442.0,145.2 446.3,146.2 449.0,147.0 C451.7,147.8 453.3,148.7 455.0,150.0 C456.7,151.3 458.0,152.8 459.0,155.0 C460.0,157.2 460.0,160.3 461.0,163.0 C462.0,165.7 465.3,169.0 465.0,171.0 C464.7,173.0 461.3,174.2 459.0,175.0 C456.7,175.8 454.0,176.0 451.0,176.0 C448.0,176.0 444.3,175.2 441.0,175.0 C437.7,174.8 432.7,175.0 431.0,175.0" fill="none" stroke="#000" stroke-width="1.2" stroke-linejoin="round"/>
<path d="M431.0,194.0 C434.3,194.0 445.0,193.7 451.0,194.0 C457.0,194.3 463.7,196.5 467.0,196.0 C470.3,195.5 469.0,192.5 471.0,191.0 C473.0,189.5 475.7,188.0 479.0,187.0 C482.3,186.0 486.3,186.0 491.0,185.0 C495.7,184.0 503.0,182.0 507.0,181.0 C511.0,180.0 513.7,179.3 515.0,179.0" fill="none" stroke="#000" stroke-width="1.2" stroke-linejoin="round"/>
<path d="M471.0,134.0 C471.5,132.8 472.7,129.2 474.0,127.0 C475.3,124.8 476.8,122.7 479.0,121.0 C481.2,119.3 484.3,117.8 487.0,117.0 C489.7,116.2 493.7,116.2 495.0,116.0" fill="none" stroke="#000" stroke-width="1.2" stroke-linejoin="round"/>
<path d="M499.0,121.0 C500.0,120.5 502.3,118.5 505.0,118.0 C507.7,117.5 512.0,117.8 515.0,118.0 C518.0,118.2 520.3,118.7 523.0,119.0 C525.7,119.3 526.3,120.2 531.0,120.0 C535.7,119.8 544.3,118.7 551.0,118.0 C557.7,117.3 565.0,117.0 571.0,116.0 C577.0,115.0 582.5,113.0 587.0,112.0 C591.5,111.0 596.2,110.3 598.0,110.0" fill="none" stroke="#000" stroke-width="0.95" stroke-dasharray="2,1.3" stroke-linejoin="round"/>
<path d="M499.0,128.0 C499.7,127.0 501.0,123.2 503.0,122.0 C505.0,120.8 508.0,121.2 511.0,121.0 C514.0,120.8 516.0,121.2 521.0,121.0 C526.0,120.8 534.3,120.3 541.0,120.0 C547.7,119.7 554.3,119.5 561.0,119.0 C567.7,118.5 574.8,117.7 581.0,117.0 C587.2,116.3 595.2,115.3 598.0,115.0" fill="none" stroke="#000" stroke-width="0.95" stroke-dasharray="2,1.3" stroke-linejoin="round"/>
<path d="M521.0,127.0 C522.7,126.7 526.0,125.5 531.0,125.0 C536.0,124.5 544.3,124.5 551.0,124.0 C557.7,123.5 563.2,122.7 571.0,122.0 C578.8,121.3 593.5,120.3 598.0,120.0" fill="none" stroke="#000" stroke-width="0.95" stroke-dasharray="2,1.3" stroke-linejoin="round"/>
<path d="M527.0,133.0 C527.0,132.0 533.0,131.5 537.0,131.0 C541.0,130.5 547.3,130.3 551.0,130.0 C554.7,129.7 556.7,128.9 559.0,129.4 C561.3,129.9 565.0,131.9 565.0,133.0 C565.0,134.1 561.3,135.3 559.0,136.0 C556.7,136.7 553.7,136.3 551.0,137.0 C548.3,137.7 545.3,140.0 543.0,140.0 C540.7,140.0 539.7,138.2 537.0,137.0 C534.3,135.8 527.0,134.0 527.0,133.0Z" fill="none" stroke="#000" stroke-width="0.95" stroke-dasharray="2,1.3" stroke-linejoin="round"/>
<path d="M519.0,135.0 C520.0,136.2 521.3,140.3 525.0,142.0 C528.7,143.7 535.0,144.3 541.0,145.0 C547.0,145.7 554.3,146.0 561.0,146.0 C567.7,146.0 574.8,145.3 581.0,145.0 C587.2,144.7 595.2,144.2 598.0,144.0" fill="none" stroke="#000" stroke-width="0.95" stroke-dasharray="2,1.3" stroke-linejoin="round"/>
<path d="M531.0,149.0 C534.3,149.2 546.7,149.5 551.0,150.0 C555.3,150.5 557.0,151.2 557.0,152.0 C557.0,152.8 554.3,154.2 551.0,155.0 C547.7,155.8 540.3,156.0 537.0,157.0 C533.7,158.0 531.3,159.3 531.0,161.0 C530.7,162.7 531.7,165.3 535.0,167.0 C538.3,168.7 547.3,169.7 551.0,171.0 C554.7,172.3 554.7,173.2 557.0,175.0 C559.3,176.8 562.0,179.3 565.0,182.0 C568.0,184.7 572.3,188.7 575.0,191.0 C577.7,193.3 580.0,195.2 581.0,196.0" fill="none" stroke="#000" stroke-width="0.95" stroke-dasharray="2,1.3" stroke-linejoin="round"/>
<path d="M531.0,158.0 C532.7,158.0 537.7,158.3 541.0,158.0 C544.3,157.7 549.3,156.3 551.0,156.0" fill="none" stroke="#000" stroke-width="0.95" stroke-dasharray="2,1.3" stroke-linejoin="round"/>
<path d="M579.0,173.0 C581.0,172.7 587.8,171.2 591.0,171.0 C594.2,170.8 596.8,171.8 598.0,172.0" fill="none" stroke="#000" stroke-width="0.95" stroke-dasharray="2,1.3" stroke-linejoin="round"/>
<path d="M581.0,179.0 C582.7,179.7 588.7,181.0 591.0,183.0 C593.3,185.0 594.3,189.7 595.0,191.0" fill="none" stroke="#000" stroke-width="0.95" stroke-dasharray="2,1.3" stroke-linejoin="round"/>
<path d="M497.0,122.0 C497.7,123.2 500.0,126.5 501.0,129.0 C502.0,131.5 502.3,134.8 503.0,137.0 C503.7,139.2 504.7,141.2 505.0,142.0" fill="none" stroke="#000" stroke-width="0.95" stroke-dasharray="2,1.3" stroke-linejoin="round"/>
</g>
<path d="M431.50,43.80v-5.9 M431.50,197.20v5.9 M457.04,43.80v-2.8 M457.04,197.20v2.8 M482.58,43.80v-2.8 M482.58,197.20v2.8 M508.12,43.80v-5.9 M508.12,197.20v5.9 M533.65,43.80v-2.8 M533.65,197.20v2.8 M559.19,43.80v-2.8 M559.19,197.20v2.8 M584.73,43.80v-5.9 M584.73,197.20v5.9 M431.50,197.20h-2.6 M597.50,197.20h2.6 M431.50,184.42h-2.6 M597.50,184.42h2.6 M431.50,171.63h-5.6 M597.50,171.63h5.6 M431.50,158.85h-2.6 M597.50,158.85h2.6 M431.50,146.07h-2.6 M597.50,146.07h2.6 M431.50,133.28h-2.6 M597.50,133.28h2.6 M431.50,120.50h-5.6 M597.50,120.50h5.6 M431.50,107.72h-2.6 M597.50,107.72h2.6 M431.50,94.93h-2.6 M597.50,94.93h2.6 M431.50,82.15h-2.6 M597.50,82.15h2.6 M431.50,69.37h-5.6 M597.50,69.37h5.6 M431.50,56.58h-2.6 M597.50,56.58h2.6 M431.50,43.80h-2.6 M597.50,43.80h2.6" stroke="#000" stroke-width="1.1" fill="none"/>
<rect x="431.5" y="43.8" width="166.0" height="153.4" fill="none" stroke="#000" stroke-width="1.3"/>
<text x="423.20" y="216.60" font-size="10.2" textLength="16.6" lengthAdjust="spacingAndGlyphs">90E</text>
<text x="497.82" y="216.60" font-size="10.2" textLength="20.6" lengthAdjust="spacingAndGlyphs">120E</text>
<text x="574.43" y="216.60" font-size="10.2" textLength="20.6" lengthAdjust="spacingAndGlyphs">150E</text>
<text x="415.00" y="176.13" font-size="10.2" textLength="5.6" lengthAdjust="spacingAndGlyphs">0</text>
<text x="403.60" y="125.00" font-size="10.2" textLength="17.0" lengthAdjust="spacingAndGlyphs">20N</text>
<text x="403.60" y="73.87" font-size="10.2" textLength="17.0" lengthAdjust="spacingAndGlyphs">40N</text>
<text x="430.90" y="33.90" font-size="11.0" textLength="82.2" lengthAdjust="spacingAndGlyphs">(c)ENSEMBLES</text>
<text x="568.50" y="33.80" font-size="9.9" textLength="30.2" lengthAdjust="spacingAndGlyphs">Precip.</text>
<g clip-path="url(#c10)">
<path d="M104.0,287.0 C105.0,286.6 110.0,286.7 111.0,287.0 C112.0,287.3 111.0,288.6 110.0,289.0 C109.0,289.4 106.0,289.7 105.0,289.4 C104.0,289.1 103.0,287.4 104.0,287.0Z" fill="#FFD700"/>
<path d="M57.0,357.0 C57.3,355.2 58.5,354.5 60.0,353.0 C61.5,351.5 63.8,349.3 66.0,348.0 C68.2,346.7 70.7,345.7 73.0,345.0 C75.3,344.3 78.0,343.6 80.0,343.6 C82.0,343.6 84.3,344.1 85.0,345.0 C85.7,345.9 84.8,347.7 84.0,349.0 C83.2,350.3 81.0,351.3 80.0,353.0 C79.0,354.7 78.2,357.0 78.0,359.0 C77.8,361.0 79.2,363.3 79.0,365.0 C78.8,366.7 78.3,368.2 77.0,369.0 C75.7,369.8 73.3,370.3 71.0,370.0 C68.7,369.7 65.2,368.0 63.0,367.0 C60.8,366.0 59.0,365.7 58.0,364.0 C57.0,362.3 56.7,358.8 57.0,357.0Z" fill="#FFD700"/>
<path d="M113.4,334.1 C114.1,332.3 114.1,330.6 115.0,329.4 C115.9,328.2 117.5,327.5 118.9,327.0 C120.3,326.5 122.5,325.8 123.6,326.2 C124.6,326.6 125.0,327.6 125.2,329.4 C125.4,331.2 125.0,334.6 124.9,337.2 C124.8,339.8 124.3,342.7 124.5,345.0 C124.7,347.3 125.4,349.2 126.0,351.0 C126.6,352.8 127.0,354.3 128.0,356.0 C129.0,357.7 130.7,359.0 132.0,361.0 C133.3,363.0 135.0,365.3 136.0,368.0 C137.0,370.7 138.0,374.5 138.0,377.0 C138.0,379.5 137.0,381.3 136.0,383.0 C135.0,384.7 133.7,386.2 132.0,387.0 C130.3,387.8 128.3,388.3 126.0,388.0 C123.7,387.7 120.3,386.2 118.0,385.0 C115.7,383.8 113.5,382.7 112.0,381.0 C110.5,379.3 109.8,377.3 109.0,375.0 C108.2,372.7 107.8,370.0 107.5,367.0 C107.2,364.0 106.9,360.4 107.1,357.0 C107.3,353.6 108.0,349.5 108.7,346.7 C109.4,343.9 110.2,342.5 111.0,340.4 C111.8,338.3 112.7,335.9 113.4,334.1Z" fill="#FFD700"/>
<path d="M118.9,326.2 L137.8,306.5 L135.9,306.5 L121.3,321.5 L119.7,325Z" fill="#FFD700"/>
<path d="M184.0,319.0 C184.0,318.3 186.0,317.0 187.0,317.0 C188.0,317.0 190.0,318.3 190.0,319.0 C190.0,319.7 188.0,321.0 187.0,321.0 C186.0,321.0 184.0,319.7 184.0,319.0Z" fill="#FFD700"/>
<path d="M160.5,365.0 C160.7,363.8 161.6,363.8 161.8,365.0 C162.1,366.2 162.2,370.8 162.0,372.0 C161.8,373.2 160.8,373.2 160.6,372.0 C160.3,370.8 160.3,366.2 160.5,365.0Z" fill="#FFD700"/>
<path d="M27.0,381.0 C28.3,375.5 32.7,378.7 35.0,378.0 C37.3,377.3 39.8,375.8 41.0,377.0 C42.2,378.2 42.0,382.3 42.0,385.0 C42.0,387.7 40.8,390.3 41.0,393.0 C41.2,395.7 42.0,397.7 43.0,401.0 C44.0,404.3 46.7,410.3 47.0,413.0 C47.3,415.7 46.3,416.3 45.0,417.0 C43.7,417.7 41.0,417.7 39.0,417.0 C37.0,416.3 35.0,414.0 33.0,413.0 C31.0,412.0 28.0,416.3 27.0,411.0 C26.0,405.7 25.7,386.5 27.0,381.0Z" fill="#00FFFF"/>
<path d="M59,415 L63,407 L65,399 L69,392 L75,388 L81,388 L85,393 L87,397 L95,398 L107,401 L115,403 L122,404 L130,405 L138,409 L142,415 L148,421 L154,420 L158,415 L157,405 L158,399 L162,395 L168,394 L174,395 L178,399 L180,407 L184,413 L190,417 L194,419 L194,442 L150,442 L140,440 L130,439 L120,438 L115,435 L107,425 L99,423 L91,423 L85,425 L81,431 L77,441 L72,441 L69,433 L67,425 L61,421Z" fill="#00FFFF"/>
<path d="M184.0,371.0 C184.5,369.2 186.7,368.3 188.0,368.0 C189.3,367.7 191.0,367.5 192.0,369.0 C193.0,370.5 194.0,374.3 194.0,377.0 C194.0,379.7 193.0,384.0 192.0,385.0 C191.0,386.0 189.2,384.0 188.0,383.0 C186.8,382.0 185.7,381.0 185.0,379.0 C184.3,377.0 183.5,372.8 184.0,371.0Z" fill="#00FFFF"/>
<path d="M184.0,369.0 C184.8,367.2 188.3,368.0 190.0,368.0 C191.7,368.0 193.3,367.2 194.0,369.0 C194.7,370.8 195.5,377.3 194.0,379.0 C192.5,380.7 186.7,380.7 185.0,379.0 C183.3,377.3 183.2,370.8 184.0,369.0Z" fill="#00FFFF"/>
<path d="M179.0,389.0 C179.3,388.7 180.7,388.7 181.0,389.0 C181.3,389.3 181.3,390.7 181.0,391.0 C180.7,391.3 179.3,391.3 179.0,391.0 C178.7,390.7 178.7,389.3 179.0,389.0Z" fill="#00FFFF"/>
<path d="M35.0,378.0 C35.5,377.3 38.2,376.7 39.0,377.0 C39.8,377.3 40.5,379.3 40.0,380.0 C39.5,380.7 36.8,381.3 36.0,381.0 C35.2,380.7 34.5,378.7 35.0,378.0Z" fill="#00FFFF"/>
<use href="#coast" transform="translate(27.3,287.7)"/>
<path d="M58,353 L66,346 L73,340.6 L83,338 L91,338.6 L96.6,345 L91,349 L85,355 L80,360 L77,366 L74,371 L67,371 L62,368 L57,363 L57,357Z" fill="none" stroke="#000" stroke-width="1.2" stroke-linejoin="round"/>
<path d="M67,358 L70,352 L75,349 L79.4,350 L80,356 L77,360 L71,362 L68,361Z" fill="none" stroke="#000" stroke-width="1.2" stroke-linejoin="round"/>
<path d="M68.0,364.0 C68.7,362.8 71.3,362.0 73.0,362.0 C74.7,362.0 77.2,362.8 78.0,364.0 C78.8,365.2 78.7,367.8 78.0,369.0 C77.3,370.2 75.5,371.0 74.0,371.0 C72.5,371.0 70.0,370.2 69.0,369.0 C68.0,367.8 67.3,365.2 68.0,364.0Z" fill="none" stroke="#000" stroke-width="1.2" stroke-linejoin="round"/>
<path d="M106.0,366.0 C106.2,363.7 106.3,356.2 107.0,352.0 C107.7,347.8 108.8,344.3 110.0,341.0 C111.2,337.7 112.7,334.2 114.0,332.0 C115.3,329.8 116.4,328.4 118.0,327.5 C119.6,326.6 122.2,326.1 123.5,326.5 C124.8,326.9 125.2,328.1 125.5,330.0 C125.8,331.9 125.2,335.3 125.0,338.0 C124.8,340.7 124.3,343.3 124.6,346.0 C124.9,348.7 125.9,351.3 127.0,354.0 C128.1,356.7 129.8,359.7 131.0,362.0 C132.2,364.3 133.2,365.8 134.0,368.0 C134.8,370.2 135.8,372.8 136.0,375.0 C136.2,377.2 135.7,379.0 135.0,381.0 C134.3,383.0 133.8,386.0 132.0,387.0 C130.2,388.0 126.7,387.7 124.0,387.0 C121.3,386.3 118.3,384.7 116.0,383.0 C113.7,381.3 111.0,378.0 110.0,377.0" fill="none" stroke="#000" stroke-width="1.2" stroke-linejoin="round"/>
<path d="M114.0,367.0 C114.3,365.2 116.3,363.3 118.0,363.0 C119.7,362.7 122.5,363.7 124.0,365.0 C125.5,366.3 126.8,368.8 127.0,371.0 C127.2,373.2 126.2,376.8 125.0,378.0 C123.8,379.2 121.5,378.7 120.0,378.0 C118.5,377.3 117.0,375.8 116.0,374.0 C115.0,372.2 113.7,368.8 114.0,367.0Z" fill="none" stroke="#000" stroke-width="1.2" stroke-linejoin="round"/>
<path d="M194.0,310.0 C192.3,310.2 186.7,309.8 184.0,311.0 C181.3,312.2 179.3,315.0 178.0,317.0 C176.7,319.0 175.8,321.0 176.0,323.0 C176.2,325.0 177.3,327.3 179.0,329.0 C180.7,330.7 183.5,332.2 186.0,333.0 C188.5,333.8 192.7,333.8 194.0,334.0" fill="none" stroke="#000" stroke-width="1.2" stroke-linejoin="round"/>
<path d="M35.0,379.0 C35.7,380.0 38.2,382.7 39.0,385.0 C39.8,387.3 39.5,389.7 40.0,393.0 C40.5,396.3 40.8,401.7 42.0,405.0 C43.2,408.3 46.0,410.0 47.0,413.0 C48.0,416.0 48.0,419.7 48.0,423.0 C48.0,426.3 47.8,430.8 47.0,433.0 C46.2,435.2 44.7,435.8 43.0,436.0 C41.3,436.2 38.7,435.5 37.0,434.0 C35.3,432.5 34.3,429.8 33.0,427.0 C31.7,424.2 30.0,419.3 29.0,417.0 C28.0,414.7 27.3,413.7 27.0,413.0" fill="none" stroke="#000" stroke-width="0.95" stroke-dasharray="2,1.3" stroke-linejoin="round"/>
<path d="M65.0,401.0 C66.3,399.8 70.3,395.3 73.0,394.0 C75.7,392.7 79.0,392.2 81.0,393.0 C83.0,393.8 83.0,397.5 85.0,399.0 C87.0,400.5 90.7,401.3 93.0,402.0 C95.3,402.7 96.7,402.5 99.0,403.0 C101.3,403.5 103.2,404.5 107.0,405.0 C110.8,405.5 117.5,405.7 122.0,406.0 C126.5,406.3 130.3,406.0 134.0,407.0 C137.7,408.0 141.0,410.3 144.0,412.0 C147.0,413.7 150.0,416.5 152.0,417.0 C154.0,417.5 155.2,417.0 156.0,415.0 C156.8,413.0 156.7,408.0 157.0,405.0 C157.3,402.0 156.8,399.0 158.0,397.0 C159.2,395.0 161.7,393.7 164.0,393.0 C166.3,392.3 169.7,392.7 172.0,393.0 C174.3,393.3 176.0,393.7 178.0,395.0 C180.0,396.3 182.0,398.7 184.0,401.0 C186.0,403.3 188.3,406.7 190.0,409.0 C191.7,411.3 193.3,414.0 194.0,415.0" fill="none" stroke="#000" stroke-width="0.95" stroke-dasharray="2,1.3" stroke-linejoin="round"/>
<path d="M61.0,419.0 C62.3,418.7 66.0,418.0 69.0,417.0 C72.0,416.0 76.0,414.0 79.0,413.0 C82.0,412.0 84.0,411.7 87.0,411.0 C90.0,410.3 93.7,408.7 97.0,409.0 C100.3,409.3 103.3,412.0 107.0,413.0 C110.7,414.0 115.2,414.2 119.0,415.0 C122.8,415.8 126.5,417.2 130.0,418.0 C133.5,418.8 138.3,419.7 140.0,420.0" fill="none" stroke="#000" stroke-width="0.95" stroke-dasharray="2,1.3" stroke-linejoin="round"/>
<path d="M168.0,405.0 C168.7,404.7 170.7,402.7 172.0,403.0 C173.3,403.3 175.0,405.0 176.0,407.0 C177.0,409.0 177.0,412.3 178.0,415.0 C179.0,417.7 180.7,420.7 182.0,423.0 C183.3,425.3 184.7,427.3 186.0,429.0 C187.3,430.7 189.3,432.3 190.0,433.0" fill="none" stroke="#000" stroke-width="0.95" stroke-dasharray="2,1.3" stroke-linejoin="round"/>
<path d="M110.0,436.0 C111.7,436.2 115.0,437.0 120.0,437.0 C125.0,437.0 133.3,436.3 140.0,436.0 C146.7,435.7 154.7,435.5 160.0,435.0 C165.3,434.5 170.0,433.3 172.0,433.0" fill="none" stroke="#000" stroke-width="0.95" stroke-dasharray="2,1.3" stroke-linejoin="round"/>
<path d="M63.0,425.0 C64.3,425.7 68.0,428.8 71.0,429.0 C74.0,429.2 77.8,426.3 81.0,426.0 C84.2,425.7 88.5,426.8 90.0,427.0" fill="none" stroke="#000" stroke-width="0.95" stroke-dasharray="2,1.3" stroke-linejoin="round"/>
</g>
<path d="M27.30,287.70v-5.9 M27.30,441.10v5.9 M52.84,287.70v-2.8 M52.84,441.10v2.8 M78.38,287.70v-2.8 M78.38,441.10v2.8 M103.92,287.70v-5.9 M103.92,441.10v5.9 M129.45,287.70v-2.8 M129.45,441.10v2.8 M154.99,287.70v-2.8 M154.99,441.10v2.8 M180.53,287.70v-5.9 M180.53,441.10v5.9 M27.30,441.10h-2.6 M193.30,441.10h2.6 M27.30,428.32h-2.6 M193.30,428.32h2.6 M27.30,415.53h-5.6 M193.30,415.53h5.6 M27.30,402.75h-2.6 M193.30,402.75h2.6 M27.30,389.97h-2.6 M193.30,389.97h2.6 M27.30,377.18h-2.6 M193.30,377.18h2.6 M27.30,364.40h-5.6 M193.30,364.40h5.6 M27.30,351.62h-2.6 M193.30,351.62h2.6 M27.30,338.83h-2.6 M193.30,338.83h2.6 M27.30,326.05h-2.6 M193.30,326.05h2.6 M27.30,313.27h-5.6 M193.30,313.27h5.6 M27.30,300.48h-2.6 M193.30,300.48h2.6 M27.30,287.70h-2.6 M193.30,287.70h2.6" stroke="#000" stroke-width="1.1" fill="none"/>
<rect x="27.3" y="287.7" width="166.0" height="153.4" fill="none" stroke="#000" stroke-width="1.3"/>
<text x="19.00" y="460.50" font-size="10.2" textLength="16.6" lengthAdjust="spacingAndGlyphs">90E</text>
<text x="93.62" y="460.50" font-size="10.2" textLength="20.6" lengthAdjust="spacingAndGlyphs">120E</text>
<text x="170.23" y="460.50" font-size="10.2" textLength="20.6" lengthAdjust="spacingAndGlyphs">150E</text>
<text x="10.80" y="420.03" font-size="10.2" textLength="5.6" lengthAdjust="spacingAndGlyphs">0</text>
<text x="-0.60" y="368.90" font-size="10.2" textLength="17.0" lengthAdjust="spacingAndGlyphs">20N</text>
<text x="-0.60" y="317.77" font-size="10.2" textLength="17.0" lengthAdjust="spacingAndGlyphs">40N</text>
<text x="26.70" y="277.80" font-size="11.0" textLength="37.9" lengthAdjust="spacingAndGlyphs">(d)OBS</text>
<text x="170.70" y="279.80" font-size="10.5" textLength="23.3" lengthAdjust="spacingAndGlyphs">V850</text>
<g clip-path="url(#c11)">
<path d="M265,287 L279,289 L281,287 L309,287 L311,291 L309,299 L313,303 L321,305 L321,353 L317,355 L313,359 L307,363 L303,367 L301,379 L279,379 L275,375 L269,371 L259,367 L253,365 L251,359 L255,355 L263,353 L267,347 L269,339 L267,333 L269,325 L273,321 L271,315 L269,307 L265,303 L263,299 L266,294Z" fill="#FFD700"/>
<path d="M281.0,310.0 C281.8,309.5 284.7,308.8 286.0,309.0 C287.3,309.2 289.2,310.3 289.0,311.0 C288.8,311.7 286.3,312.8 285.0,313.0 C283.7,313.2 281.7,312.5 281.0,312.0 C280.3,311.5 280.2,310.5 281.0,310.0Z" fill="#fff"/>
<path d="M301.0,337.0 C302.0,334.3 305.0,331.7 307.0,331.0 C309.0,330.3 312.3,331.3 313.0,333.0 C313.7,334.7 312.3,338.7 311.0,341.0 C309.7,343.3 306.7,346.0 305.0,347.0 C303.3,348.0 301.7,348.7 301.0,347.0 C300.3,345.3 300.0,339.7 301.0,337.0Z" fill="#fff"/>
<path d="M229.0,299.0 C229.7,298.3 232.3,299.2 233.0,300.0 C233.7,300.8 233.7,303.3 233.0,304.0 C232.3,304.7 229.7,304.8 229.0,304.0 C228.3,303.2 228.3,299.7 229.0,299.0Z" fill="#FFD700"/>
<path d="M229.0,353.0 C229.7,349.7 231.0,356.7 233.0,359.0 C235.0,361.3 238.3,364.7 241.0,367.0 C243.7,369.3 247.3,371.0 249.0,373.0 C250.7,375.0 254.3,378.0 251.0,379.0 C247.7,380.0 232.7,383.3 229.0,379.0 C225.3,374.7 228.3,356.3 229.0,353.0Z" fill="#FFD700"/>
<path d="M312,287 L318,287 L316,291 L312,293Z" fill="#FFD700"/>
<path d="M312.0,305.0 C313.0,296.7 316.2,302.5 318.0,302.0 C319.8,301.5 322.0,301.2 323.0,302.0 C324.0,302.8 324.3,304.8 324.0,307.0 C323.7,309.2 321.7,312.5 321.0,315.0 C320.3,317.5 319.7,320.0 320.0,322.0 C320.3,324.0 321.3,325.8 323.0,327.0 C324.7,328.2 328.2,328.0 330.0,329.0 C331.8,330.0 332.8,331.3 334.0,333.0 C335.2,334.7 337.0,337.0 337.0,339.0 C337.0,341.0 335.8,343.2 334.0,345.0 C332.2,346.8 328.7,349.0 326.0,350.0 C323.3,351.0 320.3,350.7 318.0,351.0 C315.7,351.3 313.0,359.7 312.0,352.0 C311.0,344.3 311.0,313.3 312.0,305.0Z" fill="#FFD700"/>
<path d="M312.0,331.0 C312.7,329.7 315.2,331.0 316.0,332.0 C316.8,333.0 317.3,335.7 317.0,337.0 C316.7,338.3 314.8,339.5 314.0,340.0 C313.2,340.5 312.3,341.5 312.0,340.0 C311.7,338.5 311.3,332.3 312.0,331.0Z" fill="#fff"/>
<path d="M312.0,355.0 C313.3,352.0 317.3,353.8 320.0,353.0 C322.7,352.2 325.3,350.7 328.0,350.0 C330.7,349.3 333.3,348.5 336.0,349.0 C338.7,349.5 342.0,351.0 344.0,353.0 C346.0,355.0 347.2,358.0 348.0,361.0 C348.8,364.0 349.0,368.0 349.0,371.0 C349.0,374.0 352.8,377.7 348.0,379.0 C343.2,380.3 325.3,380.0 320.0,379.0 C314.7,378.0 317.3,374.3 316.0,373.0 C314.7,371.7 312.7,374.0 312.0,371.0 C311.3,368.0 310.7,358.0 312.0,355.0Z" fill="#FFD700"/>
<path d="M362,287 L396,287 L396,333 L390,331 L386,325 L380,319 L374,313 L372,307 L370,303 L364,301 L362,297Z" fill="#FFD700"/>
<path d="M386.0,375.0 C388.0,373.7 394.3,370.3 396.0,371.0 C397.7,371.7 398.0,377.7 396.0,379.0 C394.0,380.3 385.7,379.7 384.0,379.0 C382.3,378.3 384.0,376.3 386.0,375.0Z" fill="#FFD700"/>
<path d="M301.5,360.4 C302.4,358.6 303.9,356.4 305.9,355.0 C307.9,353.6 311.0,352.2 313.5,351.7 C316.0,351.1 319.7,351.5 321.1,351.7 C322.6,351.9 322.9,352.1 322.2,352.8 C321.5,353.5 318.1,355.4 316.7,356.1 C315.2,356.8 313.5,356.5 313.5,357.2 C313.5,357.9 316.0,358.9 316.7,360.4 C317.4,361.8 316.9,364.3 317.8,365.9 C318.7,367.5 320.2,368.9 322.2,370.2 C324.2,371.5 328.0,372.2 329.8,373.5 C331.6,374.8 332.3,376.6 333.0,377.8 C333.7,379.1 339.8,380.5 334.0,381.0 C328.2,381.5 304.1,382.2 298.3,381.0 C292.5,379.8 299.0,376.0 299.3,373.5 C299.6,371.0 300.0,368.1 300.4,365.9 C300.8,363.7 300.6,362.2 301.5,360.4Z" fill="#fff"/>
<path d="M349.5,366.0 C350.4,361.2 353.7,354.3 354.8,352.0 C355.9,349.7 355.8,347.2 356.0,352.0 C356.2,356.8 357.1,376.2 356.0,381.0 C354.9,385.8 350.4,383.5 349.3,381.0 C348.2,378.5 348.6,370.8 349.5,366.0Z" fill="#fff"/>
<ellipse cx="373" cy="355.4" rx="6.6" ry="5.6" fill="#00FFFF"/>
<path d="M307.0,367.0 C307.5,365.8 310.0,367.0 311.0,368.0 C312.0,369.0 313.0,371.5 313.0,373.0 C313.0,374.5 311.8,376.7 311.0,377.0 C310.2,377.3 308.7,376.7 308.0,375.0 C307.3,373.3 306.5,368.2 307.0,367.0Z" fill="#00FFFF"/>
<path d="M229,359 L241,359 L237,365 L243,369 L247,375 L245,381 L237,381 L229,379Z" fill="#FFD700"/>
<path d="M249,359 L301,359 L301,367 L299,375 L297,381 L289,384 L281,383 L277,379 L273,371 L269,365 L259,363 L251,363Z" fill="#FFD700"/>
<path d="M312,359 L348,359 L349,367 L347,375 L344,381 L338,385 L334,381 L330,375 L320,371 L316,367 L312,365Z" fill="#FFD700"/>
<path d="M382.0,383.0 C382.3,381.0 384.3,378.7 386.0,377.0 C387.7,375.3 390.3,373.8 392.0,373.0 C393.7,372.2 395.3,367.7 396.0,372.0 C396.7,376.3 397.0,395.2 396.0,399.0 C395.0,402.8 392.0,396.7 390.0,395.0 C388.0,393.3 385.3,391.0 384.0,389.0 C382.7,387.0 381.7,385.0 382.0,383.0Z" fill="#FFD700"/>
<path d="M229,394 L241,393 L251,391 L261,389 L273,390 L281,389 L289,387 L297,386 L299.3,386.1 L303.7,382.8 L305.9,378.5 L305.3,373 L305.9,368.7 L309.1,367.6 L311.3,368.7 L311.3,374.1 L315.7,380.7 L320,383.9 L323.3,390.4 L323.3,394.8 L327.6,394.8 L334.1,392.6 L340.7,391.5 L345,391.5 L352,394 L362,392 L372,393 L382,397 L390,401 L396,403 L396,442 L372,442 L370,435 L374,429 L372,425 L364,423 L356,419 L350,415 L346,411 L340,405 L336,407 L336,415 L334,423 L332,431 L336,437 L338,442 L229,442Z" fill="#00FFFF"/>
<path d="M253.0,399.0 C254.3,397.0 257.3,396.0 259.0,397.0 C260.7,398.0 262.0,402.3 263.0,405.0 C264.0,407.7 264.3,410.7 265.0,413.0 C265.7,415.3 266.0,417.3 267.0,419.0 C268.0,420.7 269.0,422.0 271.0,423.0 C273.0,424.0 276.0,424.5 279.0,425.0 C282.0,425.5 286.0,426.3 289.0,426.0 C292.0,425.7 295.0,423.2 297.0,423.0 C299.0,422.8 300.0,423.7 301.0,425.0 C302.0,426.3 304.0,429.7 303.0,431.0 C302.0,432.3 298.0,432.3 295.0,433.0 C292.0,433.7 288.0,434.3 285.0,435.0 C282.0,435.7 279.7,436.7 277.0,437.0 C274.3,437.3 271.0,438.0 269.0,437.0 C267.0,436.0 266.7,432.7 265.0,431.0 C263.3,429.3 260.7,429.0 259.0,427.0 C257.3,425.0 256.3,422.0 255.0,419.0 C253.7,416.0 251.3,412.3 251.0,409.0 C250.7,405.7 251.7,401.0 253.0,399.0Z" fill="#fff"/>
<path d="M299.0,395.0 C299.7,394.0 303.0,394.2 304.0,395.0 C305.0,395.8 305.7,399.0 305.0,400.0 C304.3,401.0 301.0,401.8 300.0,401.0 C299.0,400.2 298.3,396.0 299.0,395.0Z" fill="#fff"/>
<path d="M307.0,409.0 C307.7,408.0 311.2,408.0 312.0,409.0 C312.8,410.0 312.7,414.0 312.0,415.0 C311.3,416.0 308.8,416.0 308.0,415.0 C307.2,414.0 306.3,410.0 307.0,409.0Z" fill="#fff"/>
<path d="M340.0,405.0 C341.7,404.3 344.3,409.3 346.0,411.0 C347.7,412.7 348.3,413.7 350.0,415.0 C351.7,416.3 353.7,417.7 356.0,419.0 C358.3,420.3 361.3,422.0 364.0,423.0 C366.7,424.0 370.3,424.0 372.0,425.0 C373.7,426.0 374.3,427.3 374.0,429.0 C373.7,430.7 370.3,432.8 370.0,435.0 C369.7,437.2 377.3,440.8 372.0,442.0 C366.7,443.2 344.0,442.8 338.0,442.0 C332.0,441.2 337.0,438.8 336.0,437.0 C335.0,435.2 332.3,433.3 332.0,431.0 C331.7,428.7 333.3,425.7 334.0,423.0 C334.7,420.3 335.0,418.0 336.0,415.0 C337.0,412.0 338.3,405.7 340.0,405.0Z" fill="#fff"/>
<path d="M340.0,431.0 C341.0,429.8 343.7,429.0 346.0,429.0 C348.3,429.0 351.7,430.0 354.0,431.0 C356.3,432.0 358.7,433.7 360.0,435.0 C361.3,436.3 363.3,438.2 362.0,439.0 C360.7,439.8 355.0,440.0 352.0,440.0 C349.0,440.0 346.0,439.7 344.0,439.0 C342.0,438.3 340.7,437.3 340.0,436.0 C339.3,434.7 339.0,432.2 340.0,431.0Z" fill="#FFD700"/>
<path d="M352.0,419.0 C352.5,418.2 356.0,417.5 357.0,418.0 C358.0,418.5 358.5,421.2 358.0,422.0 C357.5,422.8 355.0,423.5 354.0,423.0 C353.0,422.5 351.5,419.8 352.0,419.0Z" fill="#FFD700"/>
<path d="M366.0,423.0 C366.3,422.5 370.7,424.0 372.0,425.0 C373.3,426.0 374.3,428.5 374.0,429.0 C373.7,429.5 371.3,429.0 370.0,428.0 C368.7,427.0 365.7,423.5 366.0,423.0Z" fill="#FFD700"/>
<path d="M258.0,418.0 C258.3,417.3 260.3,417.3 261.0,418.0 C261.7,418.7 262.3,421.3 262.0,422.0 C261.7,422.7 259.7,422.7 259.0,422.0 C258.3,421.3 257.7,418.7 258.0,418.0Z" fill="#FFD700"/>
<path d="M286.0,421.0 C286.3,420.3 289.0,419.7 290.0,420.0 C291.0,420.3 292.3,422.3 292.0,423.0 C291.7,423.7 289.0,424.3 288.0,424.0 C287.0,423.7 285.7,421.7 286.0,421.0Z" fill="#FFD700"/>
<path d="M271.0,375.0 C271.5,374.3 273.5,374.3 274.0,375.0 C274.5,375.7 274.5,378.3 274.0,379.0 C273.5,379.7 271.5,379.7 271.0,379.0 C270.5,378.3 270.5,375.7 271.0,375.0Z" fill="#00FFFF"/>
<path d="M271.0,374.0 C271.3,373.5 272.7,373.5 273.0,374.0 C273.3,374.5 273.3,376.5 273.0,377.0 C272.7,377.5 271.3,377.5 271.0,377.0 C270.7,376.5 270.7,374.5 271.0,374.0Z" fill="#00FFFF"/>
<use href="#coast" transform="translate(229.1,287.7)"/>
<path d="M271.0,347.0 C271.8,345.3 273.3,342.7 275.0,341.0 C276.7,339.3 279.0,338.2 281.0,337.0 C283.0,335.8 285.2,334.4 287.0,334.0 C288.8,333.6 290.5,333.7 291.5,334.5 C292.5,335.3 292.9,337.6 293.0,339.0 C293.1,340.4 291.8,341.7 292.0,343.0 C292.2,344.3 293.8,345.7 294.0,347.0 C294.2,348.3 294.2,349.7 293.5,351.0 C292.8,352.3 291.4,353.8 290.0,355.0 C288.6,356.2 286.5,357.5 285.0,358.5 C283.5,359.5 282.3,360.6 281.0,361.0 C279.7,361.4 278.5,361.7 277.0,361.0 C275.5,360.3 273.2,358.7 272.0,357.0 C270.8,355.3 270.2,352.7 270.0,351.0 C269.8,349.3 270.2,348.7 271.0,347.0Z" fill="none" stroke="#000" stroke-width="1.2" stroke-linejoin="round"/>
<path d="M273.5,354 L277.5,348.5 L283,351.5 L277.5,356Z" fill="none" stroke="#000" stroke-width="1.2" stroke-linejoin="round"/>
<path d="M270.0,351.0 C269.8,352.5 268.7,357.2 269.0,360.0 C269.3,362.8 270.8,365.8 272.0,368.0 C273.2,370.2 275.3,372.2 276.0,373.0" fill="none" stroke="#000" stroke-width="1.2" stroke-linejoin="round"/>
<circle cx="277" cy="367" r="3" fill="none" stroke="#000" stroke-width="1.2"/>
<circle cx="284" cy="367" r="2.6" fill="none" stroke="#000" stroke-width="1.2"/>
<circle cx="287" cy="375" r="3.5" fill="none" stroke="#000" stroke-width="1.2"/>
<path d="M279.0,361.0 C279.7,361.3 281.8,361.7 283.0,363.0 C284.2,364.3 285.7,367.3 286.0,369.0 C286.3,370.7 285.2,372.3 285.0,373.0" fill="none" stroke="#000" stroke-width="1.2" stroke-linejoin="round"/>
<rect x="250" y="308" width="1.3" height="1.3" fill="#000"/>
<rect x="254" y="313" width="1.3" height="1.3" fill="#000"/>
<rect x="265" y="306" width="1.3" height="1.3" fill="#000"/>
<rect x="265" y="318" width="1.3" height="1.3" fill="#000"/>
<rect x="273" y="324" width="1.3" height="1.3" fill="#000"/>
<rect x="272" y="293" width="1.3" height="1.3" fill="#000"/>
<path d="M229.0,401.0 C230.3,400.8 234.3,400.0 237.0,400.0 C239.7,400.0 243.2,399.2 245.0,401.0 C246.8,402.8 247.3,408.0 248.0,411.0 C248.7,414.0 248.8,416.3 249.0,419.0 C249.2,421.7 249.7,425.2 249.0,427.0 C248.3,428.8 247.0,429.5 245.0,430.0 C243.0,430.5 239.7,430.0 237.0,430.0 C234.3,430.0 230.3,430.0 229.0,430.0" fill="none" stroke="#000" stroke-width="0.95" stroke-dasharray="2,1.3" stroke-linejoin="round"/>
<path d="M269.0,407.0 C270.3,405.7 274.0,401.0 277.0,399.0 C280.0,397.0 283.7,395.8 287.0,395.0 C290.3,394.2 294.0,394.3 297.0,394.0 C300.0,393.7 302.3,393.0 305.0,393.0 C307.7,393.0 309.8,393.5 313.0,394.0 C316.2,394.5 320.5,395.3 324.0,396.0 C327.5,396.7 332.0,396.8 334.0,398.0 C336.0,399.2 336.0,400.8 336.0,403.0 C336.0,405.2 334.7,408.3 334.0,411.0 C333.3,413.7 333.0,417.0 332.0,419.0 C331.0,421.0 330.0,422.0 328.0,423.0 C326.0,424.0 322.7,424.7 320.0,425.0 C317.3,425.3 313.3,425.0 312.0,425.0" fill="none" stroke="#000" stroke-width="0.95" stroke-dasharray="2,1.3" stroke-linejoin="round"/>
<path d="M277.0,413.0 C278.3,412.3 282.3,410.0 285.0,409.0 C287.7,408.0 290.3,407.7 293.0,407.0 C295.7,406.3 298.3,405.7 301.0,405.0 C303.7,404.3 307.7,403.3 309.0,403.0" fill="none" stroke="#000" stroke-width="0.95" stroke-dasharray="2,1.3" stroke-linejoin="round"/>
<path d="M364.0,407.0 C365.3,406.2 368.7,402.8 372.0,402.0 C375.3,401.2 380.3,401.2 384.0,402.0 C387.7,402.8 392.0,405.5 394.0,407.0 C396.0,408.5 395.7,410.3 396.0,411.0" fill="none" stroke="#000" stroke-width="0.95" stroke-dasharray="2,1.3" stroke-linejoin="round"/>
<path d="M376.0,415.0 C377.3,414.5 381.3,412.2 384.0,412.0 C386.7,411.8 390.0,412.8 392.0,414.0 C394.0,415.2 395.3,418.2 396.0,419.0" fill="none" stroke="#000" stroke-width="0.95" stroke-dasharray="2,1.3" stroke-linejoin="round"/>
<path d="M378.0,425.0 C379.3,424.3 383.7,421.3 386.0,421.0 C388.3,420.7 390.3,421.8 392.0,423.0 C393.7,424.2 395.3,427.2 396.0,428.0" fill="none" stroke="#000" stroke-width="0.95" stroke-dasharray="2,1.3" stroke-linejoin="round"/>
<path d="M372.0,433.0 C373.3,432.3 377.3,429.5 380.0,429.0 C382.7,428.5 386.7,429.8 388.0,430.0" fill="none" stroke="#000" stroke-width="0.95" stroke-dasharray="2,1.3" stroke-linejoin="round"/>
<path d="M344.0,433.0 C345.0,432.3 349.7,433.3 352.0,434.0 C354.3,434.7 358.0,436.2 358.0,437.0 C358.0,437.8 354.0,438.8 352.0,439.0 C350.0,439.2 347.3,439.0 346.0,438.0 C344.7,437.0 343.0,433.7 344.0,433.0Z" fill="none" stroke="#000" stroke-width="1.2" stroke-linejoin="round"/>
<path d="M382.0,425.0 C383.2,424.0 386.3,422.7 388.0,423.0 C389.7,423.3 391.7,425.3 392.0,427.0 C392.3,428.7 391.3,432.0 390.0,433.0 C388.7,434.0 385.5,433.7 384.0,433.0 C382.5,432.3 381.3,430.3 381.0,429.0 C380.7,427.7 380.8,426.0 382.0,425.0Z" fill="none" stroke="#000" stroke-width="0.95" stroke-dasharray="2,1.3" stroke-linejoin="round"/>
<path d="M376.0,437.0 C377.3,437.5 380.7,439.5 384.0,440.0 C387.3,440.5 394.0,440.0 396.0,440.0" fill="none" stroke="#000" stroke-width="0.95" stroke-dasharray="2,1.3" stroke-linejoin="round"/>
<path d="M362.0,420.0 C362.7,418.7 363.7,414.0 366.0,412.0 C368.3,410.0 372.3,408.7 376.0,408.0 C379.7,407.3 384.7,407.2 388.0,408.0 C391.3,408.8 394.7,412.2 396.0,413.0" fill="none" stroke="#000" stroke-width="0.95" stroke-dasharray="2,1.3" stroke-linejoin="round"/>
<path d="M368.0,430.0 C368.7,428.5 370.0,423.3 372.0,421.0 C374.0,418.7 376.7,416.7 380.0,416.0 C383.3,415.3 389.3,416.3 392.0,417.0 C394.7,417.7 395.3,419.5 396.0,420.0" fill="none" stroke="#000" stroke-width="0.95" stroke-dasharray="2,1.3" stroke-linejoin="round"/>
<path d="M312.0,398.0 C313.7,398.0 319.3,397.5 322.0,398.0 C324.7,398.5 326.5,399.3 328.0,401.0 C329.5,402.7 330.7,405.5 331.0,408.0 C331.3,410.5 330.8,413.7 330.0,416.0 C329.2,418.3 328.0,420.7 326.0,422.0 C324.0,423.3 320.3,423.7 318.0,424.0 C315.7,424.3 313.0,424.0 312.0,424.0" fill="none" stroke="#000" stroke-width="0.95" stroke-dasharray="2,1.3" stroke-linejoin="round"/>
<path d="M320.0,414.0 C320.3,412.7 324.3,412.2 326.0,413.0 C327.7,413.8 330.3,417.7 330.0,419.0 C329.7,420.3 325.7,421.8 324.0,421.0 C322.3,420.2 319.7,415.3 320.0,414.0Z" fill="none" stroke="#000" stroke-width="0.95" stroke-dasharray="2,1.3" stroke-linejoin="round"/>
</g>
<path d="M229.10,287.70v-5.9 M229.10,441.10v5.9 M254.64,287.70v-2.8 M254.64,441.10v2.8 M280.18,287.70v-2.8 M280.18,441.10v2.8 M305.72,287.70v-5.9 M305.72,441.10v5.9 M331.25,287.70v-2.8 M331.25,441.10v2.8 M356.79,287.70v-2.8 M356.79,441.10v2.8 M382.33,287.70v-5.9 M382.33,441.10v5.9 M229.10,441.10h-2.6 M395.10,441.10h2.6 M229.10,428.32h-2.6 M395.10,428.32h2.6 M229.10,415.53h-5.6 M395.10,415.53h5.6 M229.10,402.75h-2.6 M395.10,402.75h2.6 M229.10,389.97h-2.6 M395.10,389.97h2.6 M229.10,377.18h-2.6 M395.10,377.18h2.6 M229.10,364.40h-5.6 M395.10,364.40h5.6 M229.10,351.62h-2.6 M395.10,351.62h2.6 M229.10,338.83h-2.6 M395.10,338.83h2.6 M229.10,326.05h-2.6 M395.10,326.05h2.6 M229.10,313.27h-5.6 M395.10,313.27h5.6 M229.10,300.48h-2.6 M395.10,300.48h2.6 M229.10,287.70h-2.6 M395.10,287.70h2.6" stroke="#000" stroke-width="1.1" fill="none"/>
<rect x="229.1" y="287.7" width="166.0" height="153.4" fill="none" stroke="#000" stroke-width="1.3"/>
<text x="220.80" y="460.50" font-size="10.2" textLength="16.6" lengthAdjust="spacingAndGlyphs">90E</text>
<text x="295.42" y="460.50" font-size="10.2" textLength="20.6" lengthAdjust="spacingAndGlyphs">120E</text>
<text x="372.03" y="460.50" font-size="10.2" textLength="20.6" lengthAdjust="spacingAndGlyphs">150E</text>
<text x="212.60" y="420.03" font-size="10.2" textLength="5.6" lengthAdjust="spacingAndGlyphs">0</text>
<text x="201.20" y="368.90" font-size="10.2" textLength="17.0" lengthAdjust="spacingAndGlyphs">20N</text>
<text x="201.20" y="317.77" font-size="10.2" textLength="17.0" lengthAdjust="spacingAndGlyphs">40N</text>
<text x="228.50" y="277.80" font-size="11.0" textLength="58.4" lengthAdjust="spacingAndGlyphs">(e)GloSea5</text>
<text x="372.50" y="279.80" font-size="10.5" textLength="23.3" lengthAdjust="spacingAndGlyphs">V850</text>
<g clip-path="url(#c12)">
<path d="M467,289 L479,288.7 L511,288.7 L539,288.7 L534.6,291 L527,295 L522,300 L521.3,304 L525,308.6 L524.3,314.5 L522,318 L517,320.4 L511,323 L503,327 L495,328 L491,326 L495,321 L501,315 L499,311 L491,310 L481,311 L475,314 L467,315 L459,313 L455,308 L457,304 L465,301 L466,295Z" fill="#FFD700"/>
<path d="M445.0,330.0 C445.0,328.7 447.3,326.5 449.0,326.0 C450.7,325.5 452.7,326.3 455.0,327.0 C457.3,327.7 460.3,329.5 463.0,330.0 C465.7,330.5 468.3,329.7 471.0,330.0 C473.7,330.3 478.3,331.0 479.0,332.0 C479.7,333.0 477.0,334.8 475.0,336.0 C473.0,337.2 469.3,338.8 467.0,339.0 C464.7,339.2 463.0,337.8 461.0,337.0 C459.0,336.2 457.0,334.5 455.0,334.0 C453.0,333.5 450.7,334.7 449.0,334.0 C447.3,333.3 445.0,331.3 445.0,330.0Z" fill="#FFD700"/>
<path d="M431.0,337.0 C431.7,336.7 434.5,337.5 435.0,338.0 C435.5,338.5 434.7,339.7 434.0,340.0 C433.3,340.3 431.5,340.5 431.0,340.0 C430.5,339.5 430.3,337.3 431.0,337.0Z" fill="#FFD700"/>
<path d="M546.4,288.7 L590.7,288.7 L583.3,293 L580.4,297.5 L584.8,301 L590.7,303.5 L598,304 L598,316.7 L587.8,316 L580.4,314.5 L576,311.6 L573,307 L570,302.7 L564,301 L558,301 L553.8,300.5 L550.8,296.8 L547.9,292.4Z" fill="#FFD700"/>
<path d="M537.0,335.0 C538.0,333.2 540.7,331.5 543.0,330.0 C545.3,328.5 548.3,327.0 551.0,326.0 C553.7,325.0 557.5,324.0 559.0,324.0 C560.5,324.0 560.3,324.5 560.0,326.0 C559.7,327.5 558.2,330.5 557.0,333.0 C555.8,335.5 554.3,338.8 553.0,341.0 C551.7,343.2 550.3,344.8 549.0,346.0 C547.7,347.2 546.5,348.0 545.0,348.0 C543.5,348.0 541.3,347.2 540.0,346.0 C538.7,344.8 537.5,342.8 537.0,341.0 C536.5,339.2 536.0,336.8 537.0,335.0Z" fill="#00FFFF"/>
<path d="M517.0,377.0 C517.7,375.7 520.7,374.2 523.0,373.0 C525.3,371.8 527.0,370.7 531.0,370.0 C535.0,369.3 542.0,369.2 547.0,369.0 C552.0,368.8 557.0,369.5 561.0,369.0 C565.0,368.5 567.7,366.8 571.0,366.0 C574.3,365.2 578.3,364.2 581.0,364.0 C583.7,363.8 584.2,363.8 587.0,365.0 C589.8,366.2 596.2,364.0 598.0,371.0 C599.8,378.0 599.2,401.3 598.0,407.0 C596.8,412.7 593.5,406.3 591.0,405.0 C588.5,403.7 586.3,400.7 583.0,399.0 C579.7,397.3 575.0,395.5 571.0,395.0 C567.0,394.5 563.0,395.2 559.0,396.0 C555.0,396.8 550.7,399.8 547.0,400.0 C543.3,400.2 540.0,398.5 537.0,397.0 C534.0,395.5 531.3,393.0 529.0,391.0 C526.7,389.0 524.7,386.7 523.0,385.0 C521.3,383.3 520.0,382.3 519.0,381.0 C518.0,379.7 516.3,378.3 517.0,377.0Z" fill="#FFD700"/>
<path d="M431.0,389.0 C432.2,385.7 436.8,388.0 438.0,389.0 C439.2,390.0 438.5,392.7 438.0,395.0 C437.5,397.3 436.2,400.7 435.0,403.0 C433.8,405.3 431.7,411.3 431.0,409.0 C430.3,406.7 429.8,392.3 431.0,389.0Z" fill="#00FFFF"/>
<path d="M455,411 L461,403 L467,397 L477,394.6 L489,394 L499,395 L507,396 L511,395 L517,397 L523,401 L531,403 L537,409 L543,417 L551,421 L561,423 L567,419 L565,409 L571,407 L581,408 L591,411 L598,415 L598,442 L517,442 L507,439 L497,438 L487,436 L479,435 L471,433 L465,427 L459,419Z" fill="#00FFFF"/>
<path d="M545.0,434.0 C546.2,433.6 551.5,433.7 553.0,434.0 C554.5,434.3 555.2,435.6 554.0,436.0 C552.8,436.4 547.5,436.9 546.0,436.6 C544.5,436.3 543.8,434.4 545.0,434.0Z" fill="#fff"/>
<use href="#coast" transform="translate(431.5,287.7)"/>
<path d="M481.0,411.0 C482.7,410.3 487.7,407.7 491.0,407.0 C494.3,406.3 497.7,407.0 501.0,407.0 C504.3,407.0 508.0,407.0 511.0,407.0 C514.0,407.0 516.7,406.7 519.0,407.0 C521.3,407.3 523.0,408.0 525.0,409.0 C527.0,410.0 529.0,411.3 531.0,413.0 C533.0,414.7 536.3,417.0 537.0,419.0 C537.7,421.0 536.7,423.5 535.0,425.0 C533.3,426.5 529.7,427.7 527.0,428.0 C524.3,428.3 521.7,427.5 519.0,427.0 C516.3,426.5 512.3,425.3 511.0,425.0" fill="none" stroke="#000" stroke-width="0.95" stroke-dasharray="2,1.3" stroke-linejoin="round"/>
<path d="M489.0,419.0 C491.0,418.8 497.3,418.7 501.0,418.0 C504.7,417.3 509.3,415.5 511.0,415.0" fill="none" stroke="#000" stroke-width="0.95" stroke-dasharray="2,1.3" stroke-linejoin="round"/>
<path d="M571.0,417.0 C572.0,415.2 576.0,414.3 579.0,414.0 C582.0,413.7 586.3,414.2 589.0,415.0 C591.7,415.8 593.7,417.0 595.0,419.0 C596.3,421.0 597.3,424.3 597.0,427.0 C596.7,429.7 595.0,433.5 593.0,435.0 C591.0,436.5 587.3,436.7 585.0,436.0 C582.7,435.3 581.0,432.8 579.0,431.0 C577.0,429.2 574.3,427.3 573.0,425.0 C571.7,422.7 570.0,418.8 571.0,417.0Z" fill="none" stroke="#000" stroke-width="0.95" stroke-dasharray="2,1.3" stroke-linejoin="round"/>
<path d="M581.0,425.0 C581.3,423.5 585.3,423.0 587.0,423.0 C588.7,423.0 590.5,423.7 591.0,425.0 C591.5,426.3 591.0,429.8 590.0,431.0 C589.0,432.2 586.5,433.0 585.0,432.0 C583.5,431.0 580.7,426.5 581.0,425.0Z" fill="none" stroke="#000" stroke-width="0.95" stroke-dasharray="2,1.3" stroke-linejoin="round"/>
</g>
<path d="M431.50,287.70v-5.9 M431.50,441.10v5.9 M457.04,287.70v-2.8 M457.04,441.10v2.8 M482.58,287.70v-2.8 M482.58,441.10v2.8 M508.12,287.70v-5.9 M508.12,441.10v5.9 M533.65,287.70v-2.8 M533.65,441.10v2.8 M559.19,287.70v-2.8 M559.19,441.10v2.8 M584.73,287.70v-5.9 M584.73,441.10v5.9 M431.50,441.10h-2.6 M597.50,441.10h2.6 M431.50,428.32h-2.6 M597.50,428.32h2.6 M431.50,415.53h-5.6 M597.50,415.53h5.6 M431.50,402.75h-2.6 M597.50,402.75h2.6 M431.50,389.97h-2.6 M597.50,389.97h2.6 M431.50,377.18h-2.6 M597.50,377.18h2.6 M431.50,364.40h-5.6 M597.50,364.40h5.6 M431.50,351.62h-2.6 M597.50,351.62h2.6 M431.50,338.83h-2.6 M597.50,338.83h2.6 M431.50,326.05h-2.6 M597.50,326.05h2.6 M431.50,313.27h-5.6 M597.50,313.27h5.6 M431.50,300.48h-2.6 M597.50,300.48h2.6 M431.50,287.70h-2.6 M597.50,287.70h2.6" stroke="#000" stroke-width="1.1" fill="none"/>
<rect x="431.5" y="287.7" width="166.0" height="153.4" fill="none" stroke="#000" stroke-width="1.3"/>
<text x="423.20" y="460.50" font-size="10.2" textLength="16.6" lengthAdjust="spacingAndGlyphs">90E</text>
<text x="497.82" y="460.50" font-size="10.2" textLength="20.6" lengthAdjust="spacingAndGlyphs">120E</text>
<text x="574.43" y="460.50" font-size="10.2" textLength="20.6" lengthAdjust="spacingAndGlyphs">150E</text>
<text x="415.00" y="420.03" font-size="10.2" textLength="5.6" lengthAdjust="spacingAndGlyphs">0</text>
<text x="403.60" y="368.90" font-size="10.2" textLength="17.0" lengthAdjust="spacingAndGlyphs">20N</text>
<text x="403.60" y="317.77" font-size="10.2" textLength="17.0" lengthAdjust="spacingAndGlyphs">40N</text>
<text x="430.90" y="277.80" font-size="11.0" textLength="78.4" lengthAdjust="spacingAndGlyphs">(f)ENSEMBLSE</text>
<text x="574.90" y="279.80" font-size="10.5" textLength="23.3" lengthAdjust="spacingAndGlyphs">V850</text>
</svg></body></html>
